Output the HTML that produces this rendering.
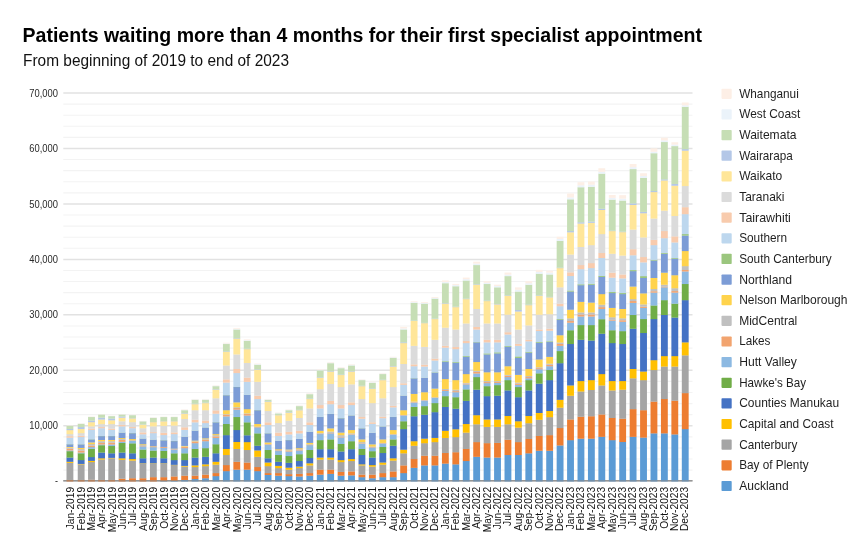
<!DOCTYPE html>
<html><head><meta charset="utf-8"><title>Patients waiting more than 4 months</title>
<style>
html,body{margin:0;padding:0;background:#fff;}
body{width:863px;height:556px;overflow:hidden;position:relative;font-family:"Liberation Sans",sans-serif;}
svg{position:absolute;left:0;top:0;opacity:0.999;will-change:transform;}
text{font-family:"Liberation Sans",sans-serif;}
</style></head><body>
<svg width="863" height="556" viewBox="0 0 863 556">
<rect x="0" y="0" width="863" height="556" fill="#ffffff"/>
<text x="22.5" y="41.8" font-size="20" font-weight="bold" fill="#000" textLength="679.5" lengthAdjust="spacingAndGlyphs">Patients waiting more than 4 months for their first specialist appointment</text>
<text x="23" y="66" font-size="15.8" fill="#111" textLength="266" lengthAdjust="spacingAndGlyphs">From beginning of 2019 to end of 2023</text>
<g>
<line x1="63.3" x2="692.5" y1="93.00" y2="93.00" stroke="#e2e2e2" stroke-width="1.5"/>
<line x1="63.3" x2="692.5" y1="104.09" y2="104.09" stroke="#f3f3f3" stroke-width="1.1"/>
<line x1="63.3" x2="692.5" y1="115.18" y2="115.18" stroke="#f3f3f3" stroke-width="1.1"/>
<line x1="63.3" x2="692.5" y1="126.28" y2="126.28" stroke="#f3f3f3" stroke-width="1.1"/>
<line x1="63.3" x2="692.5" y1="137.37" y2="137.37" stroke="#f3f3f3" stroke-width="1.1"/>
<line x1="63.3" x2="692.5" y1="148.46" y2="148.46" stroke="#e2e2e2" stroke-width="1.5"/>
<line x1="63.3" x2="692.5" y1="159.55" y2="159.55" stroke="#f3f3f3" stroke-width="1.1"/>
<line x1="63.3" x2="692.5" y1="170.64" y2="170.64" stroke="#f3f3f3" stroke-width="1.1"/>
<line x1="63.3" x2="692.5" y1="181.74" y2="181.74" stroke="#f3f3f3" stroke-width="1.1"/>
<line x1="63.3" x2="692.5" y1="192.83" y2="192.83" stroke="#f3f3f3" stroke-width="1.1"/>
<line x1="63.3" x2="692.5" y1="203.92" y2="203.92" stroke="#e2e2e2" stroke-width="1.5"/>
<line x1="63.3" x2="692.5" y1="215.01" y2="215.01" stroke="#f3f3f3" stroke-width="1.1"/>
<line x1="63.3" x2="692.5" y1="226.10" y2="226.10" stroke="#f3f3f3" stroke-width="1.1"/>
<line x1="63.3" x2="692.5" y1="237.20" y2="237.20" stroke="#f3f3f3" stroke-width="1.1"/>
<line x1="63.3" x2="692.5" y1="248.29" y2="248.29" stroke="#f3f3f3" stroke-width="1.1"/>
<line x1="63.3" x2="692.5" y1="259.38" y2="259.38" stroke="#e2e2e2" stroke-width="1.5"/>
<line x1="63.3" x2="692.5" y1="270.47" y2="270.47" stroke="#f3f3f3" stroke-width="1.1"/>
<line x1="63.3" x2="692.5" y1="281.56" y2="281.56" stroke="#f3f3f3" stroke-width="1.1"/>
<line x1="63.3" x2="692.5" y1="292.66" y2="292.66" stroke="#f3f3f3" stroke-width="1.1"/>
<line x1="63.3" x2="692.5" y1="303.75" y2="303.75" stroke="#f3f3f3" stroke-width="1.1"/>
<line x1="63.3" x2="692.5" y1="314.84" y2="314.84" stroke="#e2e2e2" stroke-width="1.5"/>
<line x1="63.3" x2="692.5" y1="325.93" y2="325.93" stroke="#f3f3f3" stroke-width="1.1"/>
<line x1="63.3" x2="692.5" y1="337.02" y2="337.02" stroke="#f3f3f3" stroke-width="1.1"/>
<line x1="63.3" x2="692.5" y1="348.12" y2="348.12" stroke="#f3f3f3" stroke-width="1.1"/>
<line x1="63.3" x2="692.5" y1="359.21" y2="359.21" stroke="#f3f3f3" stroke-width="1.1"/>
<line x1="63.3" x2="692.5" y1="370.30" y2="370.30" stroke="#e2e2e2" stroke-width="1.5"/>
<line x1="63.3" x2="692.5" y1="381.39" y2="381.39" stroke="#f3f3f3" stroke-width="1.1"/>
<line x1="63.3" x2="692.5" y1="392.48" y2="392.48" stroke="#f3f3f3" stroke-width="1.1"/>
<line x1="63.3" x2="692.5" y1="403.58" y2="403.58" stroke="#f3f3f3" stroke-width="1.1"/>
<line x1="63.3" x2="692.5" y1="414.67" y2="414.67" stroke="#f3f3f3" stroke-width="1.1"/>
<line x1="63.3" x2="692.5" y1="425.76" y2="425.76" stroke="#e2e2e2" stroke-width="1.5"/>
<line x1="63.3" x2="692.5" y1="436.85" y2="436.85" stroke="#f3f3f3" stroke-width="1.1"/>
<line x1="63.3" x2="692.5" y1="447.94" y2="447.94" stroke="#f3f3f3" stroke-width="1.1"/>
<line x1="63.3" x2="692.5" y1="459.04" y2="459.04" stroke="#f3f3f3" stroke-width="1.1"/>
<line x1="63.3" x2="692.5" y1="470.13" y2="470.13" stroke="#f3f3f3" stroke-width="1.1"/>
</g>
<g font-size="10.1" fill="#2a2a2a" text-anchor="end">
<text transform="translate(58,96.6) scale(0.93,1)" x="0" y="0">70,000</text>
<text transform="translate(58,152.1) scale(0.93,1)" x="0" y="0">60,000</text>
<text transform="translate(58,207.5) scale(0.93,1)" x="0" y="0">50,000</text>
<text transform="translate(58,263.0) scale(0.93,1)" x="0" y="0">40,000</text>
<text transform="translate(58,318.4) scale(0.93,1)" x="0" y="0">30,000</text>
<text transform="translate(58,373.9) scale(0.93,1)" x="0" y="0">20,000</text>
<text transform="translate(58,429.4) scale(0.93,1)" x="0" y="0">10,000</text>
<text transform="translate(58,483.6) scale(0.89,1)" x="0" y="0">-</text>
</g>
<line x1="63.3" x2="692.5" y1="480.8" y2="480.8" stroke="#a8a8a8" stroke-width="1.5"/>
<g>
<rect x="66.50" y="479.82" width="6.85" height="1.63" fill="#ED7D31"/><rect x="66.50" y="462.74" width="6.85" height="17.23" fill="#A5A5A5"/><rect x="66.50" y="461.68" width="6.85" height="1.21" fill="#FFC000"/><rect x="66.50" y="457.45" width="6.85" height="4.38" fill="#4472C4"/><rect x="66.50" y="451.10" width="6.85" height="6.50" fill="#70AD47"/><rect x="66.50" y="450.34" width="6.85" height="0.91" fill="#8CB9E2"/><rect x="66.50" y="448.68" width="6.85" height="1.81" fill="#F2A46F"/><rect x="66.50" y="447.62" width="6.85" height="1.21" fill="#C0C0C0"/><rect x="66.50" y="446.86" width="6.85" height="0.91" fill="#FFD34C"/><rect x="66.50" y="444.22" width="6.85" height="2.80" fill="#7C9CD6"/><rect x="66.50" y="444.07" width="6.85" height="0.30" fill="#9BC67E"/><rect x="66.50" y="437.59" width="6.85" height="6.63" fill="#BDD7EE"/><rect x="66.50" y="436.08" width="6.85" height="1.66" fill="#F8CBAD"/><rect x="66.50" y="434.04" width="6.85" height="2.19" fill="#DBDBDB"/><rect x="66.50" y="430.03" width="6.85" height="4.16" fill="#FFE699"/><rect x="66.50" y="428.90" width="6.85" height="1.28" fill="#B4C7E7"/><rect x="66.50" y="425.65" width="6.85" height="3.40" fill="#C6DEB5"/><rect x="66.50" y="425.47" width="6.85" height="0.32" fill="#EBF3FA"/><rect x="66.50" y="425.32" width="6.85" height="0.30" fill="#FDEFE6"/>
<rect x="77.73" y="479.82" width="6.85" height="1.63" fill="#ED7D31"/><rect x="77.73" y="464.25" width="6.85" height="15.72" fill="#A5A5A5"/><rect x="77.73" y="463.79" width="6.85" height="0.60" fill="#FFC000"/><rect x="77.73" y="460.02" width="6.85" height="3.93" fill="#4472C4"/><rect x="77.73" y="453.21" width="6.85" height="6.95" fill="#70AD47"/><rect x="77.73" y="452.46" width="6.85" height="0.91" fill="#8CB9E2"/><rect x="77.73" y="450.44" width="6.85" height="2.17" fill="#F2A46F"/><rect x="77.73" y="449.08" width="6.85" height="1.51" fill="#C0C0C0"/><rect x="77.73" y="447.79" width="6.85" height="1.43" fill="#FFD34C"/><rect x="77.73" y="444.29" width="6.85" height="3.65" fill="#7C9CD6"/><rect x="77.73" y="444.14" width="6.85" height="0.30" fill="#9BC67E"/><rect x="77.73" y="436.98" width="6.85" height="7.31" fill="#BDD7EE"/><rect x="77.73" y="435.70" width="6.85" height="1.43" fill="#F8CBAD"/><rect x="77.73" y="433.05" width="6.85" height="2.80" fill="#DBDBDB"/><rect x="77.73" y="428.90" width="6.85" height="4.31" fill="#FFE699"/><rect x="77.73" y="427.01" width="6.85" height="2.04" fill="#B4C7E7"/><rect x="77.73" y="423.76" width="6.85" height="3.40" fill="#C6DEB5"/><rect x="77.73" y="423.58" width="6.85" height="0.32" fill="#EBF3FA"/><rect x="77.73" y="423.43" width="6.85" height="0.30" fill="#FDEFE6"/>
<rect x="88.06" y="479.67" width="6.85" height="1.78" fill="#ED7D31"/><rect x="88.06" y="461.98" width="6.85" height="17.84" fill="#A5A5A5"/><rect x="88.06" y="460.77" width="6.85" height="1.36" fill="#FFC000"/><rect x="88.06" y="456.99" width="6.85" height="3.93" fill="#4472C4"/><rect x="88.06" y="448.68" width="6.85" height="8.46" fill="#70AD47"/><rect x="88.06" y="447.01" width="6.85" height="1.81" fill="#8CB9E2"/><rect x="88.06" y="445.65" width="6.85" height="1.51" fill="#F2A46F"/><rect x="88.06" y="443.99" width="6.85" height="1.81" fill="#C0C0C0"/><rect x="88.06" y="442.33" width="6.85" height="1.81" fill="#FFD34C"/><rect x="88.06" y="439.30" width="6.85" height="3.17" fill="#7C9CD6"/><rect x="88.06" y="439.15" width="6.85" height="0.30" fill="#9BC67E"/><rect x="88.06" y="429.78" width="6.85" height="9.52" fill="#BDD7EE"/><rect x="88.06" y="428.52" width="6.85" height="1.41" fill="#F8CBAD"/><rect x="88.06" y="426.25" width="6.85" height="2.42" fill="#DBDBDB"/><rect x="88.06" y="422.09" width="6.85" height="4.31" fill="#FFE699"/><rect x="88.06" y="420.56" width="6.85" height="1.68" fill="#B4C7E7"/><rect x="88.06" y="416.93" width="6.85" height="3.78" fill="#C6DEB5"/><rect x="88.06" y="416.78" width="6.85" height="0.30" fill="#EBF3FA"/><rect x="88.06" y="416.63" width="6.85" height="0.30" fill="#FDEFE6"/>
<rect x="98.14" y="479.82" width="6.85" height="1.63" fill="#ED7D31"/><rect x="98.14" y="459.41" width="6.85" height="20.56" fill="#A5A5A5"/><rect x="98.14" y="458.20" width="6.85" height="1.36" fill="#FFC000"/><rect x="98.14" y="452.46" width="6.85" height="5.89" fill="#4472C4"/><rect x="98.14" y="445.15" width="6.85" height="7.46" fill="#70AD47"/><rect x="98.14" y="444.39" width="6.85" height="0.91" fill="#8CB9E2"/><rect x="98.14" y="442.88" width="6.85" height="1.66" fill="#F2A46F"/><rect x="98.14" y="441.14" width="6.85" height="1.89" fill="#C0C0C0"/><rect x="98.14" y="439.86" width="6.85" height="1.43" fill="#FFD34C"/><rect x="98.14" y="436.05" width="6.85" height="3.95" fill="#7C9CD6"/><rect x="98.14" y="435.90" width="6.85" height="0.30" fill="#9BC67E"/><rect x="98.14" y="428.14" width="6.85" height="7.91" fill="#BDD7EE"/><rect x="98.14" y="427.01" width="6.85" height="1.28" fill="#F8CBAD"/><rect x="98.14" y="423.98" width="6.85" height="3.17" fill="#DBDBDB"/><rect x="98.14" y="419.45" width="6.85" height="4.69" fill="#FFE699"/><rect x="98.14" y="417.56" width="6.85" height="2.04" fill="#B4C7E7"/><rect x="98.14" y="414.31" width="6.85" height="3.40" fill="#C6DEB5"/><rect x="98.14" y="414.13" width="6.85" height="0.32" fill="#EBF3FA"/><rect x="98.14" y="413.98" width="6.85" height="0.30" fill="#FDEFE6"/>
<rect x="108.22" y="479.82" width="6.85" height="1.63" fill="#ED7D31"/><rect x="108.22" y="458.20" width="6.85" height="21.77" fill="#A5A5A5"/><rect x="108.22" y="457.75" width="6.85" height="0.60" fill="#FFC000"/><rect x="108.22" y="453.21" width="6.85" height="4.69" fill="#4472C4"/><rect x="108.22" y="445.90" width="6.85" height="7.46" fill="#70AD47"/><rect x="108.22" y="444.39" width="6.85" height="1.66" fill="#8CB9E2"/><rect x="108.22" y="442.65" width="6.85" height="1.89" fill="#F2A46F"/><rect x="108.22" y="441.14" width="6.85" height="1.66" fill="#C0C0C0"/><rect x="108.22" y="439.86" width="6.85" height="1.43" fill="#FFD34C"/><rect x="108.22" y="436.05" width="6.85" height="3.95" fill="#7C9CD6"/><rect x="108.22" y="435.90" width="6.85" height="0.30" fill="#9BC67E"/><rect x="108.22" y="429.80" width="6.85" height="6.25" fill="#BDD7EE"/><rect x="108.22" y="428.52" width="6.85" height="1.43" fill="#F8CBAD"/><rect x="108.22" y="423.98" width="6.85" height="4.69" fill="#DBDBDB"/><rect x="108.22" y="420.20" width="6.85" height="3.93" fill="#FFE699"/><rect x="108.22" y="418.47" width="6.85" height="1.89" fill="#B4C7E7"/><rect x="108.22" y="416.05" width="6.85" height="2.57" fill="#C6DEB5"/><rect x="108.22" y="415.87" width="6.85" height="0.32" fill="#EBF3FA"/><rect x="108.22" y="415.72" width="6.85" height="0.30" fill="#FDEFE6"/>
<rect x="118.65" y="478.61" width="6.85" height="2.84" fill="#ED7D31"/><rect x="118.65" y="459.71" width="6.85" height="19.05" fill="#A5A5A5"/><rect x="118.65" y="458.20" width="6.85" height="1.66" fill="#FFC000"/><rect x="118.65" y="452.46" width="6.85" height="5.89" fill="#4472C4"/><rect x="118.65" y="442.88" width="6.85" height="9.73" fill="#70AD47"/><rect x="118.65" y="441.75" width="6.85" height="1.28" fill="#8CB9E2"/><rect x="118.65" y="439.71" width="6.85" height="2.19" fill="#F2A46F"/><rect x="118.65" y="438.85" width="6.85" height="1.00" fill="#C0C0C0"/><rect x="118.65" y="437.97" width="6.85" height="1.03" fill="#FFD34C"/><rect x="118.65" y="432.58" width="6.85" height="5.54" fill="#7C9CD6"/><rect x="118.65" y="432.43" width="6.85" height="0.30" fill="#9BC67E"/><rect x="118.65" y="426.25" width="6.85" height="6.33" fill="#BDD7EE"/><rect x="118.65" y="424.74" width="6.85" height="1.66" fill="#F8CBAD"/><rect x="118.65" y="421.19" width="6.85" height="3.70" fill="#DBDBDB"/><rect x="118.65" y="417.56" width="6.85" height="3.78" fill="#FFE699"/><rect x="118.65" y="416.42" width="6.85" height="1.28" fill="#B4C7E7"/><rect x="118.65" y="414.31" width="6.85" height="2.27" fill="#C6DEB5"/><rect x="118.65" y="414.13" width="6.85" height="0.32" fill="#EBF3FA"/><rect x="118.65" y="413.98" width="6.85" height="0.30" fill="#FDEFE6"/>
<rect x="129.07" y="478.16" width="6.85" height="3.29" fill="#ED7D31"/><rect x="129.07" y="460.47" width="6.85" height="17.84" fill="#A5A5A5"/><rect x="129.07" y="458.96" width="6.85" height="1.66" fill="#FFC000"/><rect x="129.07" y="453.21" width="6.85" height="5.89" fill="#4472C4"/><rect x="129.07" y="443.24" width="6.85" height="10.13" fill="#70AD47"/><rect x="129.07" y="440.67" width="6.85" height="2.72" fill="#8CB9E2"/><rect x="129.07" y="440.36" width="6.85" height="0.45" fill="#F2A46F"/><rect x="129.07" y="440.06" width="6.85" height="0.45" fill="#C0C0C0"/><rect x="129.07" y="438.95" width="6.85" height="1.26" fill="#FFD34C"/><rect x="129.07" y="433.11" width="6.85" height="5.99" fill="#7C9CD6"/><rect x="129.07" y="432.96" width="6.85" height="0.30" fill="#9BC67E"/><rect x="129.07" y="428.12" width="6.85" height="4.99" fill="#BDD7EE"/><rect x="129.07" y="427.01" width="6.85" height="1.26" fill="#F8CBAD"/><rect x="129.07" y="422.07" width="6.85" height="5.09" fill="#DBDBDB"/><rect x="129.07" y="418.29" width="6.85" height="3.93" fill="#FFE699"/><rect x="129.07" y="418.07" width="6.85" height="0.38" fill="#B4C7E7"/><rect x="129.07" y="415.06" width="6.85" height="3.15" fill="#C6DEB5"/><rect x="129.07" y="414.89" width="6.85" height="0.32" fill="#EBF3FA"/><rect x="129.07" y="414.74" width="6.85" height="0.30" fill="#FDEFE6"/>
<rect x="139.50" y="478.16" width="6.85" height="3.29" fill="#ED7D31"/><rect x="139.50" y="463.49" width="6.85" height="14.81" fill="#A5A5A5"/><rect x="139.50" y="463.19" width="6.85" height="0.45" fill="#FFC000"/><rect x="139.50" y="458.20" width="6.85" height="5.14" fill="#4472C4"/><rect x="139.50" y="449.43" width="6.85" height="8.92" fill="#70AD47"/><rect x="139.50" y="446.26" width="6.85" height="3.32" fill="#8CB9E2"/><rect x="139.50" y="445.80" width="6.85" height="0.60" fill="#F2A46F"/><rect x="139.50" y="445.05" width="6.85" height="0.91" fill="#C0C0C0"/><rect x="139.50" y="444.14" width="6.85" height="1.06" fill="#FFD34C"/><rect x="139.50" y="438.57" width="6.85" height="5.72" fill="#7C9CD6"/><rect x="139.50" y="438.42" width="6.85" height="0.30" fill="#9BC67E"/><rect x="139.50" y="434.19" width="6.85" height="4.38" fill="#BDD7EE"/><rect x="139.50" y="432.30" width="6.85" height="2.04" fill="#F8CBAD"/><rect x="139.50" y="428.14" width="6.85" height="4.31" fill="#DBDBDB"/><rect x="139.50" y="424.59" width="6.85" height="3.70" fill="#FFE699"/><rect x="139.50" y="424.34" width="6.85" height="0.40" fill="#B4C7E7"/><rect x="139.50" y="421.19" width="6.85" height="3.30" fill="#C6DEB5"/><rect x="139.50" y="421.01" width="6.85" height="0.32" fill="#EBF3FA"/><rect x="139.50" y="420.86" width="6.85" height="0.30" fill="#FDEFE6"/>
<rect x="149.93" y="477.10" width="6.85" height="4.35" fill="#ED7D31"/><rect x="149.93" y="463.49" width="6.85" height="13.76" fill="#A5A5A5"/><rect x="149.93" y="463.19" width="6.85" height="0.45" fill="#FFC000"/><rect x="149.93" y="457.45" width="6.85" height="5.89" fill="#4472C4"/><rect x="149.93" y="450.44" width="6.85" height="7.16" fill="#70AD47"/><rect x="149.93" y="447.09" width="6.85" height="3.50" fill="#8CB9E2"/><rect x="149.93" y="446.33" width="6.85" height="0.91" fill="#F2A46F"/><rect x="149.93" y="446.18" width="6.85" height="0.30" fill="#C0C0C0"/><rect x="149.93" y="446.03" width="6.85" height="0.30" fill="#FFD34C"/><rect x="149.93" y="439.68" width="6.85" height="6.50" fill="#7C9CD6"/><rect x="149.93" y="439.53" width="6.85" height="0.30" fill="#9BC67E"/><rect x="149.93" y="433.05" width="6.85" height="6.63" fill="#BDD7EE"/><rect x="149.93" y="432.07" width="6.85" height="1.13" fill="#F8CBAD"/><rect x="149.93" y="426.25" width="6.85" height="5.97" fill="#DBDBDB"/><rect x="149.93" y="422.07" width="6.85" height="4.33" fill="#FFE699"/><rect x="149.93" y="421.84" width="6.85" height="0.38" fill="#B4C7E7"/><rect x="149.93" y="417.79" width="6.85" height="4.21" fill="#C6DEB5"/><rect x="149.93" y="417.61" width="6.85" height="0.32" fill="#EBF3FA"/><rect x="149.93" y="417.46" width="6.85" height="0.30" fill="#FDEFE6"/>
<rect x="160.36" y="481.00" width="6.85" height="0.45" fill="#5B9BD5"/><rect x="160.36" y="477.10" width="6.85" height="4.05" fill="#ED7D31"/><rect x="160.36" y="463.49" width="6.85" height="13.76" fill="#A5A5A5"/><rect x="160.36" y="463.19" width="6.85" height="0.45" fill="#FFC000"/><rect x="160.36" y="458.20" width="6.85" height="5.14" fill="#4472C4"/><rect x="160.36" y="450.82" width="6.85" height="7.53" fill="#70AD47"/><rect x="160.36" y="447.79" width="6.85" height="3.17" fill="#8CB9E2"/><rect x="160.36" y="447.01" width="6.85" height="0.93" fill="#F2A46F"/><rect x="160.36" y="446.86" width="6.85" height="0.30" fill="#C0C0C0"/><rect x="160.36" y="446.79" width="6.85" height="0.23" fill="#FFD34C"/><rect x="160.36" y="440.21" width="6.85" height="6.73" fill="#7C9CD6"/><rect x="160.36" y="440.06" width="6.85" height="0.30" fill="#9BC67E"/><rect x="160.36" y="434.94" width="6.85" height="5.27" fill="#BDD7EE"/><rect x="160.36" y="432.68" width="6.85" height="2.42" fill="#F8CBAD"/><rect x="160.36" y="425.72" width="6.85" height="7.10" fill="#DBDBDB"/><rect x="160.36" y="421.16" width="6.85" height="4.71" fill="#FFE699"/><rect x="160.36" y="420.96" width="6.85" height="0.35" fill="#B4C7E7"/><rect x="160.36" y="416.95" width="6.85" height="4.16" fill="#C6DEB5"/><rect x="160.36" y="416.78" width="6.85" height="0.32" fill="#EBF3FA"/><rect x="160.36" y="416.63" width="6.85" height="0.30" fill="#FDEFE6"/>
<rect x="170.79" y="480.80" width="6.85" height="0.65" fill="#5B9BD5"/><rect x="170.79" y="476.34" width="6.85" height="4.61" fill="#ED7D31"/><rect x="170.79" y="465.00" width="6.85" height="11.49" fill="#A5A5A5"/><rect x="170.79" y="464.70" width="6.85" height="0.45" fill="#FFC000"/><rect x="170.79" y="460.02" width="6.85" height="4.84" fill="#4472C4"/><rect x="170.79" y="453.21" width="6.85" height="6.95" fill="#70AD47"/><rect x="170.79" y="449.46" width="6.85" height="3.91" fill="#8CB9E2"/><rect x="170.79" y="449.13" width="6.85" height="0.48" fill="#F2A46F"/><rect x="170.79" y="448.83" width="6.85" height="0.45" fill="#C0C0C0"/><rect x="170.79" y="448.55" width="6.85" height="0.43" fill="#FFD34C"/><rect x="170.79" y="441.04" width="6.85" height="7.66" fill="#7C9CD6"/><rect x="170.79" y="440.89" width="6.85" height="0.30" fill="#9BC67E"/><rect x="170.79" y="434.04" width="6.85" height="7.01" fill="#BDD7EE"/><rect x="170.79" y="432.30" width="6.85" height="1.89" fill="#F8CBAD"/><rect x="170.79" y="425.50" width="6.85" height="6.95" fill="#DBDBDB"/><rect x="170.79" y="421.16" width="6.85" height="4.48" fill="#FFE699"/><rect x="170.79" y="420.96" width="6.85" height="0.35" fill="#B4C7E7"/><rect x="170.79" y="416.95" width="6.85" height="4.16" fill="#C6DEB5"/><rect x="170.79" y="416.78" width="6.85" height="0.32" fill="#EBF3FA"/><rect x="170.79" y="416.63" width="6.85" height="0.30" fill="#FDEFE6"/>
<rect x="181.22" y="479.82" width="6.85" height="1.63" fill="#5B9BD5"/><rect x="181.22" y="475.59" width="6.85" height="4.38" fill="#ED7D31"/><rect x="181.22" y="466.52" width="6.85" height="9.22" fill="#A5A5A5"/><rect x="181.22" y="465.76" width="6.85" height="0.91" fill="#FFC000"/><rect x="181.22" y="460.02" width="6.85" height="5.89" fill="#4472C4"/><rect x="181.22" y="453.21" width="6.85" height="6.95" fill="#70AD47"/><rect x="181.22" y="448.07" width="6.85" height="5.29" fill="#8CB9E2"/><rect x="181.22" y="446.86" width="6.85" height="1.36" fill="#F2A46F"/><rect x="181.22" y="446.41" width="6.85" height="0.60" fill="#C0C0C0"/><rect x="181.22" y="445.80" width="6.85" height="0.75" fill="#FFD34C"/><rect x="181.22" y="436.73" width="6.85" height="9.22" fill="#7C9CD6"/><rect x="181.22" y="436.58" width="6.85" height="0.30" fill="#9BC67E"/><rect x="181.22" y="429.78" width="6.85" height="6.95" fill="#BDD7EE"/><rect x="181.22" y="427.21" width="6.85" height="2.72" fill="#F8CBAD"/><rect x="181.22" y="418.90" width="6.85" height="8.46" fill="#DBDBDB"/><rect x="181.22" y="413.61" width="6.85" height="5.44" fill="#FFE699"/><rect x="181.22" y="413.15" width="6.85" height="0.60" fill="#B4C7E7"/><rect x="181.22" y="410.13" width="6.85" height="3.17" fill="#C6DEB5"/><rect x="181.22" y="409.67" width="6.85" height="0.60" fill="#EBF3FA"/><rect x="181.22" y="409.37" width="6.85" height="0.45" fill="#FDEFE6"/>
<rect x="191.65" y="478.91" width="6.85" height="2.54" fill="#5B9BD5"/><rect x="191.65" y="475.59" width="6.85" height="3.48" fill="#ED7D31"/><rect x="191.65" y="466.97" width="6.85" height="8.77" fill="#A5A5A5"/><rect x="191.65" y="465.31" width="6.85" height="1.81" fill="#FFC000"/><rect x="191.65" y="457.45" width="6.85" height="8.01" fill="#4472C4"/><rect x="191.65" y="448.83" width="6.85" height="8.77" fill="#70AD47"/><rect x="191.65" y="443.08" width="6.85" height="5.89" fill="#8CB9E2"/><rect x="191.65" y="441.57" width="6.85" height="1.66" fill="#F2A46F"/><rect x="191.65" y="441.12" width="6.85" height="0.60" fill="#C0C0C0"/><rect x="191.65" y="440.51" width="6.85" height="0.75" fill="#FFD34C"/><rect x="191.65" y="430.69" width="6.85" height="9.98" fill="#7C9CD6"/><rect x="191.65" y="430.54" width="6.85" height="0.30" fill="#9BC67E"/><rect x="191.65" y="422.22" width="6.85" height="8.46" fill="#BDD7EE"/><rect x="191.65" y="419.65" width="6.85" height="2.72" fill="#F8CBAD"/><rect x="191.65" y="410.13" width="6.85" height="9.67" fill="#DBDBDB"/><rect x="191.65" y="404.08" width="6.85" height="6.20" fill="#FFE699"/><rect x="191.65" y="403.63" width="6.85" height="0.60" fill="#B4C7E7"/><rect x="191.65" y="399.70" width="6.85" height="4.08" fill="#C6DEB5"/><rect x="191.65" y="399.24" width="6.85" height="0.60" fill="#EBF3FA"/><rect x="191.65" y="398.94" width="6.85" height="0.45" fill="#FDEFE6"/>
<rect x="202.08" y="478.16" width="6.85" height="3.29" fill="#5B9BD5"/><rect x="202.08" y="474.53" width="6.85" height="3.78" fill="#ED7D31"/><rect x="202.08" y="466.06" width="6.85" height="8.62" fill="#A5A5A5"/><rect x="202.08" y="464.25" width="6.85" height="1.96" fill="#FFC000"/><rect x="202.08" y="456.69" width="6.85" height="7.71" fill="#4472C4"/><rect x="202.08" y="448.07" width="6.85" height="8.77" fill="#70AD47"/><rect x="202.08" y="441.12" width="6.85" height="7.10" fill="#8CB9E2"/><rect x="202.08" y="439.61" width="6.85" height="1.66" fill="#F2A46F"/><rect x="202.08" y="439.00" width="6.85" height="0.75" fill="#C0C0C0"/><rect x="202.08" y="438.25" width="6.85" height="0.91" fill="#FFD34C"/><rect x="202.08" y="427.51" width="6.85" height="10.88" fill="#7C9CD6"/><rect x="202.08" y="427.36" width="6.85" height="0.30" fill="#9BC67E"/><rect x="202.08" y="422.98" width="6.85" height="4.53" fill="#BDD7EE"/><rect x="202.08" y="420.41" width="6.85" height="2.72" fill="#F8CBAD"/><rect x="202.08" y="410.13" width="6.85" height="10.43" fill="#DBDBDB"/><rect x="202.08" y="403.02" width="6.85" height="7.26" fill="#FFE699"/><rect x="202.08" y="402.57" width="6.85" height="0.60" fill="#B4C7E7"/><rect x="202.08" y="399.70" width="6.85" height="3.02" fill="#C6DEB5"/><rect x="202.08" y="399.24" width="6.85" height="0.60" fill="#EBF3FA"/><rect x="202.08" y="398.94" width="6.85" height="0.45" fill="#FDEFE6"/>
<rect x="212.51" y="476.04" width="6.85" height="5.41" fill="#5B9BD5"/><rect x="212.51" y="473.02" width="6.85" height="3.17" fill="#ED7D31"/><rect x="212.51" y="464.55" width="6.85" height="8.62" fill="#A5A5A5"/><rect x="212.51" y="461.68" width="6.85" height="3.02" fill="#FFC000"/><rect x="212.51" y="453.21" width="6.85" height="8.62" fill="#4472C4"/><rect x="212.51" y="444.14" width="6.85" height="9.22" fill="#70AD47"/><rect x="212.51" y="437.79" width="6.85" height="6.50" fill="#8CB9E2"/><rect x="212.51" y="436.28" width="6.85" height="1.66" fill="#F2A46F"/><rect x="212.51" y="435.07" width="6.85" height="1.36" fill="#C0C0C0"/><rect x="212.51" y="434.01" width="6.85" height="1.21" fill="#FFD34C"/><rect x="212.51" y="422.22" width="6.85" height="11.94" fill="#7C9CD6"/><rect x="212.51" y="422.07" width="6.85" height="0.30" fill="#9BC67E"/><rect x="212.51" y="413.61" width="6.85" height="8.62" fill="#BDD7EE"/><rect x="212.51" y="410.28" width="6.85" height="3.48" fill="#F8CBAD"/><rect x="212.51" y="398.19" width="6.85" height="12.24" fill="#DBDBDB"/><rect x="212.51" y="389.57" width="6.85" height="8.77" fill="#FFE699"/><rect x="212.51" y="389.12" width="6.85" height="0.60" fill="#B4C7E7"/><rect x="212.51" y="386.09" width="6.85" height="3.17" fill="#C6DEB5"/><rect x="212.51" y="385.64" width="6.85" height="0.60" fill="#EBF3FA"/><rect x="212.51" y="385.34" width="6.85" height="0.45" fill="#FDEFE6"/>
<rect x="222.94" y="471.05" width="6.85" height="10.40" fill="#5B9BD5"/><rect x="222.94" y="465.00" width="6.85" height="6.20" fill="#ED7D31"/><rect x="222.94" y="454.88" width="6.85" height="10.28" fill="#A5A5A5"/><rect x="222.94" y="448.83" width="6.85" height="6.20" fill="#FFC000"/><rect x="222.94" y="435.07" width="6.85" height="13.91" fill="#4472C4"/><rect x="222.94" y="423.89" width="6.85" height="11.34" fill="#70AD47"/><rect x="222.94" y="416.33" width="6.85" height="7.71" fill="#8CB9E2"/><rect x="222.94" y="414.66" width="6.85" height="1.81" fill="#F2A46F"/><rect x="222.94" y="414.06" width="6.85" height="0.75" fill="#C0C0C0"/><rect x="222.94" y="410.13" width="6.85" height="4.08" fill="#FFD34C"/><rect x="222.94" y="395.16" width="6.85" height="15.12" fill="#7C9CD6"/><rect x="222.94" y="395.01" width="6.85" height="0.30" fill="#9BC67E"/><rect x="222.94" y="382.46" width="6.85" height="12.70" fill="#BDD7EE"/><rect x="222.94" y="379.29" width="6.85" height="3.32" fill="#F8CBAD"/><rect x="222.94" y="365.38" width="6.85" height="14.06" fill="#DBDBDB"/><rect x="222.94" y="351.78" width="6.85" height="13.76" fill="#FFE699"/><rect x="222.94" y="351.32" width="6.85" height="0.60" fill="#B4C7E7"/><rect x="222.94" y="343.92" width="6.85" height="7.56" fill="#C6DEB5"/><rect x="222.94" y="343.31" width="6.85" height="0.75" fill="#EBF3FA"/><rect x="222.94" y="342.71" width="6.85" height="0.75" fill="#FDEFE6"/>
<rect x="233.36" y="469.54" width="6.85" height="11.91" fill="#5B9BD5"/><rect x="233.36" y="461.68" width="6.85" height="8.01" fill="#ED7D31"/><rect x="233.36" y="448.83" width="6.85" height="13.00" fill="#A5A5A5"/><rect x="233.36" y="441.87" width="6.85" height="7.10" fill="#FFC000"/><rect x="233.36" y="429.93" width="6.85" height="12.09" fill="#4472C4"/><rect x="233.36" y="416.93" width="6.85" height="13.15" fill="#70AD47"/><rect x="233.36" y="409.52" width="6.85" height="7.56" fill="#8CB9E2"/><rect x="233.36" y="408.01" width="6.85" height="1.66" fill="#F2A46F"/><rect x="233.36" y="407.11" width="6.85" height="1.06" fill="#C0C0C0"/><rect x="233.36" y="402.27" width="6.85" height="4.99" fill="#FFD34C"/><rect x="233.36" y="387.00" width="6.85" height="15.42" fill="#7C9CD6"/><rect x="233.36" y="386.85" width="6.85" height="0.30" fill="#9BC67E"/><rect x="233.36" y="372.94" width="6.85" height="14.06" fill="#BDD7EE"/><rect x="233.36" y="368.86" width="6.85" height="4.23" fill="#F8CBAD"/><rect x="233.36" y="354.35" width="6.85" height="14.66" fill="#DBDBDB"/><rect x="233.36" y="338.62" width="6.85" height="15.87" fill="#FFE699"/><rect x="233.36" y="338.17" width="6.85" height="0.60" fill="#B4C7E7"/><rect x="233.36" y="329.40" width="6.85" height="8.92" fill="#C6DEB5"/><rect x="233.36" y="328.65" width="6.85" height="0.91" fill="#EBF3FA"/><rect x="233.36" y="327.89" width="6.85" height="0.91" fill="#FDEFE6"/>
<rect x="243.79" y="469.54" width="6.85" height="11.91" fill="#5B9BD5"/><rect x="243.79" y="462.43" width="6.85" height="7.26" fill="#ED7D31"/><rect x="243.79" y="449.89" width="6.85" height="12.70" fill="#A5A5A5"/><rect x="243.79" y="442.03" width="6.85" height="8.01" fill="#FFC000"/><rect x="243.79" y="435.22" width="6.85" height="6.95" fill="#4472C4"/><rect x="243.79" y="422.22" width="6.85" height="13.15" fill="#70AD47"/><rect x="243.79" y="415.42" width="6.85" height="6.95" fill="#8CB9E2"/><rect x="243.79" y="413.91" width="6.85" height="1.66" fill="#F2A46F"/><rect x="243.79" y="413.30" width="6.85" height="0.75" fill="#C0C0C0"/><rect x="243.79" y="409.07" width="6.85" height="4.38" fill="#FFD34C"/><rect x="243.79" y="394.86" width="6.85" height="14.36" fill="#7C9CD6"/><rect x="243.79" y="394.71" width="6.85" height="0.30" fill="#9BC67E"/><rect x="243.79" y="381.71" width="6.85" height="13.15" fill="#BDD7EE"/><rect x="243.79" y="377.48" width="6.85" height="4.38" fill="#F8CBAD"/><rect x="243.79" y="362.81" width="6.85" height="14.81" fill="#DBDBDB"/><rect x="243.79" y="349.06" width="6.85" height="13.91" fill="#FFE699"/><rect x="243.79" y="348.60" width="6.85" height="0.60" fill="#B4C7E7"/><rect x="243.79" y="340.74" width="6.85" height="8.01" fill="#C6DEB5"/><rect x="243.79" y="340.14" width="6.85" height="0.75" fill="#EBF3FA"/><rect x="243.79" y="339.38" width="6.85" height="0.91" fill="#FDEFE6"/>
<rect x="254.22" y="471.05" width="6.85" height="10.40" fill="#5B9BD5"/><rect x="254.22" y="466.97" width="6.85" height="4.23" fill="#ED7D31"/><rect x="254.22" y="456.69" width="6.85" height="10.43" fill="#A5A5A5"/><rect x="254.22" y="450.34" width="6.85" height="6.50" fill="#FFC000"/><rect x="254.22" y="445.65" width="6.85" height="4.84" fill="#4472C4"/><rect x="254.22" y="433.26" width="6.85" height="12.55" fill="#70AD47"/><rect x="254.22" y="427.21" width="6.85" height="6.20" fill="#8CB9E2"/><rect x="254.22" y="426.76" width="6.85" height="0.60" fill="#F2A46F"/><rect x="254.22" y="426.46" width="6.85" height="0.45" fill="#C0C0C0"/><rect x="254.22" y="423.89" width="6.85" height="2.72" fill="#FFD34C"/><rect x="254.22" y="410.13" width="6.85" height="13.91" fill="#7C9CD6"/><rect x="254.22" y="409.98" width="6.85" height="0.30" fill="#9BC67E"/><rect x="254.22" y="398.94" width="6.85" height="11.19" fill="#BDD7EE"/><rect x="254.22" y="395.62" width="6.85" height="3.48" fill="#F8CBAD"/><rect x="254.22" y="381.71" width="6.85" height="14.06" fill="#DBDBDB"/><rect x="254.22" y="369.61" width="6.85" height="12.24" fill="#FFE699"/><rect x="254.22" y="369.16" width="6.85" height="0.60" fill="#B4C7E7"/><rect x="254.22" y="364.63" width="6.85" height="4.69" fill="#C6DEB5"/><rect x="254.22" y="364.02" width="6.85" height="0.75" fill="#EBF3FA"/><rect x="254.22" y="363.57" width="6.85" height="0.60" fill="#FDEFE6"/>
<rect x="264.65" y="474.83" width="6.85" height="6.62" fill="#5B9BD5"/><rect x="264.65" y="473.02" width="6.85" height="1.96" fill="#ED7D31"/><rect x="264.65" y="466.06" width="6.85" height="7.10" fill="#A5A5A5"/><rect x="264.65" y="462.43" width="6.85" height="3.78" fill="#FFC000"/><rect x="264.65" y="458.20" width="6.85" height="4.38" fill="#4472C4"/><rect x="264.65" y="449.89" width="6.85" height="8.46" fill="#70AD47"/><rect x="264.65" y="444.90" width="6.85" height="5.14" fill="#8CB9E2"/><rect x="264.65" y="444.29" width="6.85" height="0.75" fill="#F2A46F"/><rect x="264.65" y="443.84" width="6.85" height="0.60" fill="#C0C0C0"/><rect x="264.65" y="442.33" width="6.85" height="1.66" fill="#FFD34C"/><rect x="264.65" y="433.26" width="6.85" height="9.22" fill="#7C9CD6"/><rect x="264.65" y="433.11" width="6.85" height="0.30" fill="#9BC67E"/><rect x="264.65" y="424.94" width="6.85" height="8.31" fill="#BDD7EE"/><rect x="264.65" y="422.22" width="6.85" height="2.87" fill="#F8CBAD"/><rect x="264.65" y="410.88" width="6.85" height="11.49" fill="#DBDBDB"/><rect x="264.65" y="401.66" width="6.85" height="9.37" fill="#FFE699"/><rect x="264.65" y="401.21" width="6.85" height="0.60" fill="#B4C7E7"/><rect x="264.65" y="399.70" width="6.85" height="1.66" fill="#C6DEB5"/><rect x="264.65" y="399.24" width="6.85" height="0.60" fill="#EBF3FA"/><rect x="264.65" y="398.94" width="6.85" height="0.45" fill="#FDEFE6"/>
<rect x="275.08" y="475.59" width="6.85" height="5.86" fill="#5B9BD5"/><rect x="275.08" y="473.02" width="6.85" height="2.72" fill="#ED7D31"/><rect x="275.08" y="468.03" width="6.85" height="5.14" fill="#A5A5A5"/><rect x="275.08" y="465.76" width="6.85" height="2.42" fill="#FFC000"/><rect x="275.08" y="461.68" width="6.85" height="4.23" fill="#4472C4"/><rect x="275.08" y="454.88" width="6.85" height="6.95" fill="#70AD47"/><rect x="275.08" y="450.94" width="6.85" height="4.08" fill="#8CB9E2"/><rect x="275.08" y="450.34" width="6.85" height="0.75" fill="#F2A46F"/><rect x="275.08" y="449.89" width="6.85" height="0.60" fill="#C0C0C0"/><rect x="275.08" y="449.13" width="6.85" height="0.91" fill="#FFD34C"/><rect x="275.08" y="440.82" width="6.85" height="8.46" fill="#7C9CD6"/><rect x="275.08" y="440.67" width="6.85" height="0.30" fill="#9BC67E"/><rect x="275.08" y="435.83" width="6.85" height="4.99" fill="#BDD7EE"/><rect x="275.08" y="432.50" width="6.85" height="3.48" fill="#F8CBAD"/><rect x="275.08" y="422.98" width="6.85" height="9.67" fill="#DBDBDB"/><rect x="275.08" y="415.12" width="6.85" height="8.01" fill="#FFE699"/><rect x="275.08" y="414.81" width="6.85" height="0.45" fill="#B4C7E7"/><rect x="275.08" y="413.30" width="6.85" height="1.66" fill="#C6DEB5"/><rect x="275.08" y="412.85" width="6.85" height="0.60" fill="#EBF3FA"/><rect x="275.08" y="412.55" width="6.85" height="0.45" fill="#FDEFE6"/>
<rect x="285.51" y="476.04" width="6.85" height="5.41" fill="#5B9BD5"/><rect x="285.51" y="474.07" width="6.85" height="2.12" fill="#ED7D31"/><rect x="285.51" y="469.54" width="6.85" height="4.69" fill="#A5A5A5"/><rect x="285.51" y="467.57" width="6.85" height="2.12" fill="#FFC000"/><rect x="285.51" y="462.74" width="6.85" height="4.99" fill="#4472C4"/><rect x="285.51" y="455.93" width="6.85" height="6.95" fill="#70AD47"/><rect x="285.51" y="451.40" width="6.85" height="4.69" fill="#8CB9E2"/><rect x="285.51" y="450.64" width="6.85" height="0.91" fill="#F2A46F"/><rect x="285.51" y="450.19" width="6.85" height="0.60" fill="#C0C0C0"/><rect x="285.51" y="449.43" width="6.85" height="0.91" fill="#FFD34C"/><rect x="285.51" y="440.06" width="6.85" height="9.52" fill="#7C9CD6"/><rect x="285.51" y="439.91" width="6.85" height="0.30" fill="#9BC67E"/><rect x="285.51" y="434.32" width="6.85" height="5.74" fill="#BDD7EE"/><rect x="285.51" y="431.75" width="6.85" height="2.72" fill="#F8CBAD"/><rect x="285.51" y="420.71" width="6.85" height="11.19" fill="#DBDBDB"/><rect x="285.51" y="412.55" width="6.85" height="8.31" fill="#FFE699"/><rect x="285.51" y="412.09" width="6.85" height="0.60" fill="#B4C7E7"/><rect x="285.51" y="410.13" width="6.85" height="2.12" fill="#C6DEB5"/><rect x="285.51" y="409.67" width="6.85" height="0.60" fill="#EBF3FA"/><rect x="285.51" y="409.37" width="6.85" height="0.45" fill="#FDEFE6"/>
<rect x="295.94" y="476.34" width="6.85" height="5.11" fill="#5B9BD5"/><rect x="295.94" y="473.77" width="6.85" height="2.72" fill="#ED7D31"/><rect x="295.94" y="468.03" width="6.85" height="5.89" fill="#A5A5A5"/><rect x="295.94" y="466.52" width="6.85" height="1.66" fill="#FFC000"/><rect x="295.94" y="460.92" width="6.85" height="5.74" fill="#4472C4"/><rect x="295.94" y="454.12" width="6.85" height="6.95" fill="#70AD47"/><rect x="295.94" y="450.34" width="6.85" height="3.93" fill="#8CB9E2"/><rect x="295.94" y="449.58" width="6.85" height="0.91" fill="#F2A46F"/><rect x="295.94" y="449.13" width="6.85" height="0.60" fill="#C0C0C0"/><rect x="295.94" y="448.07" width="6.85" height="1.21" fill="#FFD34C"/><rect x="295.94" y="438.85" width="6.85" height="9.37" fill="#7C9CD6"/><rect x="295.94" y="438.70" width="6.85" height="0.30" fill="#9BC67E"/><rect x="295.94" y="433.26" width="6.85" height="5.59" fill="#BDD7EE"/><rect x="295.94" y="430.69" width="6.85" height="2.72" fill="#F8CBAD"/><rect x="295.94" y="417.84" width="6.85" height="13.00" fill="#DBDBDB"/><rect x="295.94" y="410.13" width="6.85" height="7.86" fill="#FFE699"/><rect x="295.94" y="409.67" width="6.85" height="0.60" fill="#B4C7E7"/><rect x="295.94" y="406.05" width="6.85" height="3.78" fill="#C6DEB5"/><rect x="295.94" y="405.59" width="6.85" height="0.60" fill="#EBF3FA"/><rect x="295.94" y="405.29" width="6.85" height="0.45" fill="#FDEFE6"/>
<rect x="306.37" y="475.59" width="6.85" height="5.86" fill="#5B9BD5"/><rect x="306.37" y="473.02" width="6.85" height="2.72" fill="#ED7D31"/><rect x="306.37" y="465.31" width="6.85" height="7.86" fill="#A5A5A5"/><rect x="306.37" y="463.19" width="6.85" height="2.27" fill="#FFC000"/><rect x="306.37" y="457.90" width="6.85" height="5.44" fill="#4472C4"/><rect x="306.37" y="449.89" width="6.85" height="8.16" fill="#70AD47"/><rect x="306.37" y="445.05" width="6.85" height="4.99" fill="#8CB9E2"/><rect x="306.37" y="444.60" width="6.85" height="0.60" fill="#F2A46F"/><rect x="306.37" y="444.14" width="6.85" height="0.60" fill="#C0C0C0"/><rect x="306.37" y="442.78" width="6.85" height="1.51" fill="#FFD34C"/><rect x="306.37" y="431.75" width="6.85" height="11.19" fill="#7C9CD6"/><rect x="306.37" y="431.59" width="6.85" height="0.30" fill="#9BC67E"/><rect x="306.37" y="424.94" width="6.85" height="6.80" fill="#BDD7EE"/><rect x="306.37" y="422.22" width="6.85" height="2.87" fill="#F8CBAD"/><rect x="306.37" y="408.31" width="6.85" height="14.06" fill="#DBDBDB"/><rect x="306.37" y="398.94" width="6.85" height="9.52" fill="#FFE699"/><rect x="306.37" y="398.49" width="6.85" height="0.60" fill="#B4C7E7"/><rect x="306.37" y="394.10" width="6.85" height="4.53" fill="#C6DEB5"/><rect x="306.37" y="393.50" width="6.85" height="0.75" fill="#EBF3FA"/><rect x="306.37" y="393.05" width="6.85" height="0.60" fill="#FDEFE6"/>
<rect x="316.80" y="474.53" width="6.85" height="6.92" fill="#5B9BD5"/><rect x="316.80" y="469.54" width="6.85" height="5.14" fill="#ED7D31"/><rect x="316.80" y="459.41" width="6.85" height="10.28" fill="#A5A5A5"/><rect x="316.80" y="457.45" width="6.85" height="2.12" fill="#FFC000"/><rect x="316.80" y="449.13" width="6.85" height="8.46" fill="#4472C4"/><rect x="316.80" y="440.06" width="6.85" height="9.22" fill="#70AD47"/><rect x="316.80" y="434.01" width="6.85" height="6.20" fill="#8CB9E2"/><rect x="316.80" y="433.56" width="6.85" height="0.60" fill="#F2A46F"/><rect x="316.80" y="432.96" width="6.85" height="0.75" fill="#C0C0C0"/><rect x="316.80" y="430.69" width="6.85" height="2.42" fill="#FFD34C"/><rect x="316.80" y="416.93" width="6.85" height="13.91" fill="#7C9CD6"/><rect x="316.80" y="416.78" width="6.85" height="0.30" fill="#9BC67E"/><rect x="316.80" y="408.31" width="6.85" height="8.62" fill="#BDD7EE"/><rect x="316.80" y="404.99" width="6.85" height="3.48" fill="#F8CBAD"/><rect x="316.80" y="389.12" width="6.85" height="16.02" fill="#DBDBDB"/><rect x="316.80" y="377.48" width="6.85" height="11.79" fill="#FFE699"/><rect x="316.80" y="377.02" width="6.85" height="0.60" fill="#B4C7E7"/><rect x="316.80" y="370.22" width="6.85" height="6.95" fill="#C6DEB5"/><rect x="316.80" y="369.61" width="6.85" height="0.75" fill="#EBF3FA"/><rect x="316.80" y="369.16" width="6.85" height="0.60" fill="#FDEFE6"/>
<rect x="327.23" y="473.77" width="6.85" height="7.68" fill="#5B9BD5"/><rect x="327.23" y="469.54" width="6.85" height="4.38" fill="#ED7D31"/><rect x="327.23" y="459.41" width="6.85" height="10.28" fill="#A5A5A5"/><rect x="327.23" y="457.45" width="6.85" height="2.12" fill="#FFC000"/><rect x="327.23" y="449.13" width="6.85" height="8.46" fill="#4472C4"/><rect x="327.23" y="439.30" width="6.85" height="9.98" fill="#70AD47"/><rect x="327.23" y="433.26" width="6.85" height="6.20" fill="#8CB9E2"/><rect x="327.23" y="432.80" width="6.85" height="0.60" fill="#F2A46F"/><rect x="327.23" y="431.44" width="6.85" height="1.51" fill="#C0C0C0"/><rect x="327.23" y="428.27" width="6.85" height="3.32" fill="#FFD34C"/><rect x="327.23" y="413.91" width="6.85" height="14.51" fill="#7C9CD6"/><rect x="327.23" y="413.76" width="6.85" height="0.30" fill="#9BC67E"/><rect x="327.23" y="404.08" width="6.85" height="9.82" fill="#BDD7EE"/><rect x="327.23" y="400.76" width="6.85" height="3.48" fill="#F8CBAD"/><rect x="327.23" y="383.82" width="6.85" height="17.08" fill="#DBDBDB"/><rect x="327.23" y="371.43" width="6.85" height="12.55" fill="#FFE699"/><rect x="327.23" y="370.98" width="6.85" height="0.60" fill="#B4C7E7"/><rect x="327.23" y="363.11" width="6.85" height="8.01" fill="#C6DEB5"/><rect x="327.23" y="362.51" width="6.85" height="0.75" fill="#EBF3FA"/><rect x="327.23" y="362.06" width="6.85" height="0.60" fill="#FDEFE6"/>
<rect x="337.65" y="475.59" width="6.85" height="5.86" fill="#5B9BD5"/><rect x="337.65" y="471.81" width="6.85" height="3.93" fill="#ED7D31"/><rect x="337.65" y="461.98" width="6.85" height="9.98" fill="#A5A5A5"/><rect x="337.65" y="460.02" width="6.85" height="2.12" fill="#FFC000"/><rect x="337.65" y="451.40" width="6.85" height="8.77" fill="#4472C4"/><rect x="337.65" y="443.84" width="6.85" height="7.71" fill="#70AD47"/><rect x="337.65" y="437.34" width="6.85" height="6.65" fill="#8CB9E2"/><rect x="337.65" y="436.73" width="6.85" height="0.75" fill="#F2A46F"/><rect x="337.65" y="435.07" width="6.85" height="1.81" fill="#C0C0C0"/><rect x="337.65" y="432.50" width="6.85" height="2.72" fill="#FFD34C"/><rect x="337.65" y="418.14" width="6.85" height="14.51" fill="#7C9CD6"/><rect x="337.65" y="417.99" width="6.85" height="0.30" fill="#9BC67E"/><rect x="337.65" y="408.31" width="6.85" height="9.82" fill="#BDD7EE"/><rect x="337.65" y="404.99" width="6.85" height="3.48" fill="#F8CBAD"/><rect x="337.65" y="387.00" width="6.85" height="18.14" fill="#DBDBDB"/><rect x="337.65" y="374.91" width="6.85" height="12.24" fill="#FFE699"/><rect x="337.65" y="374.45" width="6.85" height="0.60" fill="#B4C7E7"/><rect x="337.65" y="368.10" width="6.85" height="6.50" fill="#C6DEB5"/><rect x="337.65" y="367.65" width="6.85" height="0.60" fill="#EBF3FA"/><rect x="337.65" y="367.20" width="6.85" height="0.60" fill="#FDEFE6"/>
<rect x="348.08" y="475.28" width="6.85" height="6.17" fill="#5B9BD5"/><rect x="348.08" y="471.35" width="6.85" height="4.08" fill="#ED7D31"/><rect x="348.08" y="460.92" width="6.85" height="10.58" fill="#A5A5A5"/><rect x="348.08" y="458.96" width="6.85" height="2.12" fill="#FFC000"/><rect x="348.08" y="449.13" width="6.85" height="9.98" fill="#4472C4"/><rect x="348.08" y="441.12" width="6.85" height="8.16" fill="#70AD47"/><rect x="348.08" y="434.77" width="6.85" height="6.50" fill="#8CB9E2"/><rect x="348.08" y="434.32" width="6.85" height="0.60" fill="#F2A46F"/><rect x="348.08" y="433.26" width="6.85" height="1.21" fill="#C0C0C0"/><rect x="348.08" y="429.93" width="6.85" height="3.48" fill="#FFD34C"/><rect x="348.08" y="415.42" width="6.85" height="14.66" fill="#7C9CD6"/><rect x="348.08" y="415.27" width="6.85" height="0.30" fill="#9BC67E"/><rect x="348.08" y="404.99" width="6.85" height="10.43" fill="#BDD7EE"/><rect x="348.08" y="402.27" width="6.85" height="2.87" fill="#F8CBAD"/><rect x="348.08" y="384.28" width="6.85" height="18.14" fill="#DBDBDB"/><rect x="348.08" y="371.43" width="6.85" height="13.00" fill="#FFE699"/><rect x="348.08" y="370.98" width="6.85" height="0.60" fill="#B4C7E7"/><rect x="348.08" y="365.38" width="6.85" height="5.74" fill="#C6DEB5"/><rect x="348.08" y="364.78" width="6.85" height="0.75" fill="#EBF3FA"/><rect x="348.08" y="364.32" width="6.85" height="0.60" fill="#FDEFE6"/>
<rect x="358.51" y="477.10" width="6.85" height="4.35" fill="#5B9BD5"/><rect x="358.51" y="474.53" width="6.85" height="2.72" fill="#ED7D31"/><rect x="358.51" y="465.31" width="6.85" height="9.37" fill="#A5A5A5"/><rect x="358.51" y="464.25" width="6.85" height="1.21" fill="#FFC000"/><rect x="358.51" y="454.88" width="6.85" height="9.52" fill="#4472C4"/><rect x="358.51" y="448.83" width="6.85" height="6.20" fill="#70AD47"/><rect x="358.51" y="443.84" width="6.85" height="5.14" fill="#8CB9E2"/><rect x="358.51" y="443.39" width="6.85" height="0.60" fill="#F2A46F"/><rect x="358.51" y="442.03" width="6.85" height="1.51" fill="#C0C0C0"/><rect x="358.51" y="439.30" width="6.85" height="2.87" fill="#FFD34C"/><rect x="358.51" y="428.27" width="6.85" height="11.19" fill="#7C9CD6"/><rect x="358.51" y="428.12" width="6.85" height="0.30" fill="#9BC67E"/><rect x="358.51" y="418.59" width="6.85" height="9.67" fill="#BDD7EE"/><rect x="358.51" y="416.93" width="6.85" height="1.81" fill="#F8CBAD"/><rect x="358.51" y="398.94" width="6.85" height="18.14" fill="#DBDBDB"/><rect x="358.51" y="386.09" width="6.85" height="13.00" fill="#FFE699"/><rect x="358.51" y="385.64" width="6.85" height="0.60" fill="#B4C7E7"/><rect x="358.51" y="380.05" width="6.85" height="5.74" fill="#C6DEB5"/><rect x="358.51" y="379.59" width="6.85" height="0.60" fill="#EBF3FA"/><rect x="358.51" y="379.29" width="6.85" height="0.45" fill="#FDEFE6"/>
<rect x="368.94" y="478.16" width="6.85" height="3.29" fill="#5B9BD5"/><rect x="368.94" y="474.53" width="6.85" height="3.78" fill="#ED7D31"/><rect x="368.94" y="466.52" width="6.85" height="8.16" fill="#A5A5A5"/><rect x="368.94" y="465.00" width="6.85" height="1.66" fill="#FFC000"/><rect x="368.94" y="457.45" width="6.85" height="7.71" fill="#4472C4"/><rect x="368.94" y="451.10" width="6.85" height="6.50" fill="#70AD47"/><rect x="368.94" y="447.32" width="6.85" height="3.93" fill="#8CB9E2"/><rect x="368.94" y="446.86" width="6.85" height="0.60" fill="#F2A46F"/><rect x="368.94" y="446.41" width="6.85" height="0.60" fill="#C0C0C0"/><rect x="368.94" y="444.29" width="6.85" height="2.27" fill="#FFD34C"/><rect x="368.94" y="432.80" width="6.85" height="11.64" fill="#7C9CD6"/><rect x="368.94" y="432.65" width="6.85" height="0.30" fill="#9BC67E"/><rect x="368.94" y="423.73" width="6.85" height="9.07" fill="#BDD7EE"/><rect x="368.94" y="422.22" width="6.85" height="1.66" fill="#F8CBAD"/><rect x="368.94" y="403.02" width="6.85" height="19.35" fill="#DBDBDB"/><rect x="368.94" y="388.81" width="6.85" height="14.36" fill="#FFE699"/><rect x="368.94" y="388.36" width="6.85" height="0.60" fill="#B4C7E7"/><rect x="368.94" y="382.77" width="6.85" height="5.74" fill="#C6DEB5"/><rect x="368.94" y="382.16" width="6.85" height="0.75" fill="#EBF3FA"/><rect x="368.94" y="381.71" width="6.85" height="0.60" fill="#FDEFE6"/>
<rect x="379.37" y="477.10" width="6.85" height="4.35" fill="#5B9BD5"/><rect x="379.37" y="473.02" width="6.85" height="4.23" fill="#ED7D31"/><rect x="379.37" y="464.55" width="6.85" height="8.62" fill="#A5A5A5"/><rect x="379.37" y="462.43" width="6.85" height="2.27" fill="#FFC000"/><rect x="379.37" y="452.91" width="6.85" height="9.67" fill="#4472C4"/><rect x="379.37" y="446.86" width="6.85" height="6.20" fill="#70AD47"/><rect x="379.37" y="443.39" width="6.85" height="3.63" fill="#8CB9E2"/><rect x="379.37" y="443.08" width="6.85" height="0.45" fill="#F2A46F"/><rect x="379.37" y="442.78" width="6.85" height="0.45" fill="#C0C0C0"/><rect x="379.37" y="439.30" width="6.85" height="3.63" fill="#FFD34C"/><rect x="379.37" y="426.46" width="6.85" height="13.00" fill="#7C9CD6"/><rect x="379.37" y="426.30" width="6.85" height="0.30" fill="#9BC67E"/><rect x="379.37" y="418.14" width="6.85" height="8.31" fill="#BDD7EE"/><rect x="379.37" y="416.63" width="6.85" height="1.66" fill="#F8CBAD"/><rect x="379.37" y="398.19" width="6.85" height="18.59" fill="#DBDBDB"/><rect x="379.37" y="380.05" width="6.85" height="18.29" fill="#FFE699"/><rect x="379.37" y="379.59" width="6.85" height="0.60" fill="#B4C7E7"/><rect x="379.37" y="374.00" width="6.85" height="5.74" fill="#C6DEB5"/><rect x="379.37" y="373.39" width="6.85" height="0.75" fill="#EBF3FA"/><rect x="379.37" y="372.94" width="6.85" height="0.60" fill="#FDEFE6"/>
<rect x="389.80" y="477.10" width="6.85" height="4.35" fill="#5B9BD5"/><rect x="389.80" y="471.35" width="6.85" height="5.89" fill="#ED7D31"/><rect x="389.80" y="460.47" width="6.85" height="11.03" fill="#A5A5A5"/><rect x="389.80" y="458.20" width="6.85" height="2.42" fill="#FFC000"/><rect x="389.80" y="445.65" width="6.85" height="12.70" fill="#4472C4"/><rect x="389.80" y="439.30" width="6.85" height="6.50" fill="#70AD47"/><rect x="389.80" y="434.77" width="6.85" height="4.69" fill="#8CB9E2"/><rect x="389.80" y="434.47" width="6.85" height="0.45" fill="#F2A46F"/><rect x="389.80" y="434.01" width="6.85" height="0.60" fill="#C0C0C0"/><rect x="389.80" y="429.93" width="6.85" height="4.23" fill="#FFD34C"/><rect x="389.80" y="416.93" width="6.85" height="13.15" fill="#7C9CD6"/><rect x="389.80" y="416.78" width="6.85" height="0.30" fill="#9BC67E"/><rect x="389.80" y="407.26" width="6.85" height="9.67" fill="#BDD7EE"/><rect x="389.80" y="405.74" width="6.85" height="1.66" fill="#F8CBAD"/><rect x="389.80" y="387.00" width="6.85" height="18.90" fill="#DBDBDB"/><rect x="389.80" y="366.44" width="6.85" height="20.71" fill="#FFE699"/><rect x="389.80" y="365.99" width="6.85" height="0.60" fill="#B4C7E7"/><rect x="389.80" y="357.82" width="6.85" height="8.31" fill="#C6DEB5"/><rect x="389.80" y="357.22" width="6.85" height="0.75" fill="#EBF3FA"/><rect x="389.80" y="356.76" width="6.85" height="0.60" fill="#FDEFE6"/>
<rect x="400.23" y="473.02" width="6.85" height="8.43" fill="#5B9BD5"/><rect x="400.23" y="465.31" width="6.85" height="7.86" fill="#ED7D31"/><rect x="400.23" y="453.21" width="6.85" height="12.24" fill="#A5A5A5"/><rect x="400.23" y="449.58" width="6.85" height="3.78" fill="#FFC000"/><rect x="400.23" y="429.02" width="6.85" height="20.71" fill="#4472C4"/><rect x="400.23" y="421.16" width="6.85" height="8.01" fill="#70AD47"/><rect x="400.23" y="415.42" width="6.85" height="5.89" fill="#8CB9E2"/><rect x="400.23" y="415.12" width="6.85" height="0.45" fill="#F2A46F"/><rect x="400.23" y="414.81" width="6.85" height="0.45" fill="#C0C0C0"/><rect x="400.23" y="410.13" width="6.85" height="4.84" fill="#FFD34C"/><rect x="400.23" y="395.62" width="6.85" height="14.66" fill="#7C9CD6"/><rect x="400.23" y="395.46" width="6.85" height="0.30" fill="#9BC67E"/><rect x="400.23" y="384.73" width="6.85" height="10.88" fill="#BDD7EE"/><rect x="400.23" y="383.22" width="6.85" height="1.66" fill="#F8CBAD"/><rect x="400.23" y="363.87" width="6.85" height="19.50" fill="#DBDBDB"/><rect x="400.23" y="343.01" width="6.85" height="21.01" fill="#FFE699"/><rect x="400.23" y="342.25" width="6.85" height="0.91" fill="#B4C7E7"/><rect x="400.23" y="329.40" width="6.85" height="13.00" fill="#C6DEB5"/><rect x="400.23" y="328.34" width="6.85" height="1.21" fill="#EBF3FA"/><rect x="400.23" y="326.83" width="6.85" height="1.66" fill="#FDEFE6"/>
<rect x="410.66" y="467.72" width="6.85" height="13.73" fill="#5B9BD5"/><rect x="410.66" y="458.96" width="6.85" height="8.92" fill="#ED7D31"/><rect x="410.66" y="445.65" width="6.85" height="13.45" fill="#A5A5A5"/><rect x="410.66" y="441.12" width="6.85" height="4.69" fill="#FFC000"/><rect x="410.66" y="416.18" width="6.85" height="25.09" fill="#4472C4"/><rect x="410.66" y="406.80" width="6.85" height="9.52" fill="#70AD47"/><rect x="410.66" y="402.72" width="6.85" height="4.23" fill="#8CB9E2"/><rect x="410.66" y="402.27" width="6.85" height="0.60" fill="#F2A46F"/><rect x="410.66" y="401.51" width="6.85" height="0.91" fill="#C0C0C0"/><rect x="410.66" y="393.80" width="6.85" height="7.86" fill="#FFD34C"/><rect x="410.66" y="378.23" width="6.85" height="15.72" fill="#7C9CD6"/><rect x="410.66" y="378.08" width="6.85" height="0.30" fill="#9BC67E"/><rect x="410.66" y="366.14" width="6.85" height="12.09" fill="#BDD7EE"/><rect x="410.66" y="364.32" width="6.85" height="1.96" fill="#F8CBAD"/><rect x="410.66" y="345.73" width="6.85" height="18.74" fill="#DBDBDB"/><rect x="410.66" y="320.79" width="6.85" height="25.09" fill="#FFE699"/><rect x="410.66" y="320.48" width="6.85" height="0.45" fill="#B4C7E7"/><rect x="410.66" y="302.80" width="6.85" height="17.84" fill="#C6DEB5"/><rect x="410.66" y="302.04" width="6.85" height="0.91" fill="#EBF3FA"/><rect x="410.66" y="301.28" width="6.85" height="0.91" fill="#FDEFE6"/>
<rect x="421.09" y="465.31" width="6.85" height="16.14" fill="#5B9BD5"/><rect x="421.09" y="455.63" width="6.85" height="9.82" fill="#ED7D31"/><rect x="421.09" y="443.08" width="6.85" height="12.70" fill="#A5A5A5"/><rect x="421.09" y="438.55" width="6.85" height="4.69" fill="#FFC000"/><rect x="421.09" y="414.66" width="6.85" height="24.04" fill="#4472C4"/><rect x="421.09" y="406.05" width="6.85" height="8.77" fill="#70AD47"/><rect x="421.09" y="400.91" width="6.85" height="5.29" fill="#8CB9E2"/><rect x="421.09" y="400.45" width="6.85" height="0.60" fill="#F2A46F"/><rect x="421.09" y="399.85" width="6.85" height="0.75" fill="#C0C0C0"/><rect x="421.09" y="392.14" width="6.85" height="7.86" fill="#FFD34C"/><rect x="421.09" y="377.78" width="6.85" height="14.51" fill="#7C9CD6"/><rect x="421.09" y="377.63" width="6.85" height="0.30" fill="#9BC67E"/><rect x="421.09" y="366.44" width="6.85" height="11.34" fill="#BDD7EE"/><rect x="421.09" y="364.63" width="6.85" height="1.96" fill="#F8CBAD"/><rect x="421.09" y="346.79" width="6.85" height="17.99" fill="#DBDBDB"/><rect x="421.09" y="323.05" width="6.85" height="23.88" fill="#FFE699"/><rect x="421.09" y="322.75" width="6.85" height="0.45" fill="#B4C7E7"/><rect x="421.09" y="303.55" width="6.85" height="19.35" fill="#C6DEB5"/><rect x="421.09" y="302.80" width="6.85" height="0.91" fill="#EBF3FA"/><rect x="421.09" y="302.04" width="6.85" height="0.91" fill="#FDEFE6"/>
<rect x="431.51" y="465.31" width="6.85" height="16.14" fill="#5B9BD5"/><rect x="431.51" y="455.63" width="6.85" height="9.82" fill="#ED7D31"/><rect x="431.51" y="442.03" width="6.85" height="13.76" fill="#A5A5A5"/><rect x="431.51" y="437.79" width="6.85" height="4.38" fill="#FFC000"/><rect x="431.51" y="412.09" width="6.85" height="25.85" fill="#4472C4"/><rect x="431.51" y="403.02" width="6.85" height="9.22" fill="#70AD47"/><rect x="431.51" y="397.88" width="6.85" height="5.29" fill="#8CB9E2"/><rect x="431.51" y="397.58" width="6.85" height="0.45" fill="#F2A46F"/><rect x="431.51" y="397.13" width="6.85" height="0.60" fill="#C0C0C0"/><rect x="431.51" y="388.51" width="6.85" height="8.77" fill="#FFD34C"/><rect x="431.51" y="372.49" width="6.85" height="16.17" fill="#7C9CD6"/><rect x="431.51" y="372.18" width="6.85" height="0.45" fill="#9BC67E"/><rect x="431.51" y="360.39" width="6.85" height="11.94" fill="#BDD7EE"/><rect x="431.51" y="358.58" width="6.85" height="1.96" fill="#F8CBAD"/><rect x="431.51" y="339.68" width="6.85" height="19.05" fill="#DBDBDB"/><rect x="431.51" y="318.97" width="6.85" height="20.86" fill="#FFE699"/><rect x="431.51" y="318.52" width="6.85" height="0.60" fill="#B4C7E7"/><rect x="431.51" y="298.56" width="6.85" height="20.10" fill="#C6DEB5"/><rect x="431.51" y="297.81" width="6.85" height="0.91" fill="#EBF3FA"/><rect x="431.51" y="297.05" width="6.85" height="0.91" fill="#FDEFE6"/>
<rect x="441.94" y="463.49" width="6.85" height="17.96" fill="#5B9BD5"/><rect x="441.94" y="452.91" width="6.85" height="10.73" fill="#ED7D31"/><rect x="441.94" y="437.79" width="6.85" height="15.27" fill="#A5A5A5"/><rect x="441.94" y="430.69" width="6.85" height="7.26" fill="#FFC000"/><rect x="441.94" y="406.80" width="6.85" height="24.04" fill="#4472C4"/><rect x="441.94" y="396.07" width="6.85" height="10.88" fill="#70AD47"/><rect x="441.94" y="390.78" width="6.85" height="5.44" fill="#8CB9E2"/><rect x="441.94" y="389.87" width="6.85" height="1.06" fill="#F2A46F"/><rect x="441.94" y="388.81" width="6.85" height="1.21" fill="#C0C0C0"/><rect x="441.94" y="378.99" width="6.85" height="9.98" fill="#FFD34C"/><rect x="441.94" y="361.90" width="6.85" height="17.23" fill="#7C9CD6"/><rect x="441.94" y="361.15" width="6.85" height="0.91" fill="#9BC67E"/><rect x="441.94" y="347.54" width="6.85" height="13.76" fill="#BDD7EE"/><rect x="441.94" y="345.73" width="6.85" height="1.96" fill="#F8CBAD"/><rect x="441.94" y="327.59" width="6.85" height="18.29" fill="#DBDBDB"/><rect x="441.94" y="303.55" width="6.85" height="24.19" fill="#FFE699"/><rect x="441.94" y="303.10" width="6.85" height="0.60" fill="#B4C7E7"/><rect x="441.94" y="283.14" width="6.85" height="20.10" fill="#C6DEB5"/><rect x="441.94" y="281.93" width="6.85" height="1.36" fill="#EBF3FA"/><rect x="441.94" y="280.42" width="6.85" height="1.66" fill="#FDEFE6"/>
<rect x="452.37" y="464.25" width="6.85" height="17.20" fill="#5B9BD5"/><rect x="452.37" y="452.15" width="6.85" height="12.24" fill="#ED7D31"/><rect x="452.37" y="437.04" width="6.85" height="15.27" fill="#A5A5A5"/><rect x="452.37" y="429.18" width="6.85" height="8.01" fill="#FFC000"/><rect x="452.37" y="408.62" width="6.85" height="20.71" fill="#4472C4"/><rect x="452.37" y="397.13" width="6.85" height="11.64" fill="#70AD47"/><rect x="452.37" y="392.14" width="6.85" height="5.14" fill="#8CB9E2"/><rect x="452.37" y="391.08" width="6.85" height="1.21" fill="#F2A46F"/><rect x="452.37" y="389.57" width="6.85" height="1.66" fill="#C0C0C0"/><rect x="452.37" y="380.05" width="6.85" height="9.67" fill="#FFD34C"/><rect x="452.37" y="362.81" width="6.85" height="17.38" fill="#7C9CD6"/><rect x="452.37" y="362.06" width="6.85" height="0.91" fill="#9BC67E"/><rect x="452.37" y="349.06" width="6.85" height="13.15" fill="#BDD7EE"/><rect x="452.37" y="346.94" width="6.85" height="2.27" fill="#F8CBAD"/><rect x="452.37" y="329.40" width="6.85" height="17.69" fill="#DBDBDB"/><rect x="452.37" y="307.03" width="6.85" height="22.52" fill="#FFE699"/><rect x="452.37" y="306.58" width="6.85" height="0.60" fill="#B4C7E7"/><rect x="452.37" y="286.17" width="6.85" height="20.56" fill="#C6DEB5"/><rect x="452.37" y="284.96" width="6.85" height="1.36" fill="#EBF3FA"/><rect x="452.37" y="283.90" width="6.85" height="1.21" fill="#FDEFE6"/>
<rect x="462.80" y="460.92" width="6.85" height="20.53" fill="#5B9BD5"/><rect x="462.80" y="448.83" width="6.85" height="12.24" fill="#ED7D31"/><rect x="462.80" y="432.50" width="6.85" height="16.48" fill="#A5A5A5"/><rect x="462.80" y="423.89" width="6.85" height="8.77" fill="#FFC000"/><rect x="462.80" y="400.76" width="6.85" height="23.28" fill="#4472C4"/><rect x="462.80" y="389.27" width="6.85" height="11.64" fill="#70AD47"/><rect x="462.80" y="384.28" width="6.85" height="5.14" fill="#8CB9E2"/><rect x="462.80" y="383.52" width="6.85" height="0.91" fill="#F2A46F"/><rect x="462.80" y="382.77" width="6.85" height="0.91" fill="#C0C0C0"/><rect x="462.80" y="374.00" width="6.85" height="8.92" fill="#FFD34C"/><rect x="462.80" y="356.76" width="6.85" height="17.38" fill="#7C9CD6"/><rect x="462.80" y="356.01" width="6.85" height="0.91" fill="#9BC67E"/><rect x="462.80" y="343.01" width="6.85" height="13.15" fill="#BDD7EE"/><rect x="462.80" y="340.89" width="6.85" height="2.27" fill="#F8CBAD"/><rect x="462.80" y="323.36" width="6.85" height="17.69" fill="#DBDBDB"/><rect x="462.80" y="299.02" width="6.85" height="24.49" fill="#FFE699"/><rect x="462.80" y="298.56" width="6.85" height="0.60" fill="#B4C7E7"/><rect x="462.80" y="280.42" width="6.85" height="18.29" fill="#C6DEB5"/><rect x="462.80" y="279.06" width="6.85" height="1.51" fill="#EBF3FA"/><rect x="462.80" y="277.55" width="6.85" height="1.66" fill="#FDEFE6"/>
<rect x="473.23" y="456.69" width="6.85" height="24.76" fill="#5B9BD5"/><rect x="473.23" y="442.03" width="6.85" height="14.81" fill="#ED7D31"/><rect x="473.23" y="424.19" width="6.85" height="17.99" fill="#A5A5A5"/><rect x="473.23" y="415.12" width="6.85" height="9.22" fill="#FFC000"/><rect x="473.23" y="389.57" width="6.85" height="25.70" fill="#4472C4"/><rect x="473.23" y="377.02" width="6.85" height="12.70" fill="#70AD47"/><rect x="473.23" y="373.39" width="6.85" height="3.78" fill="#8CB9E2"/><rect x="473.23" y="371.73" width="6.85" height="1.81" fill="#F2A46F"/><rect x="473.23" y="370.67" width="6.85" height="1.21" fill="#C0C0C0"/><rect x="473.23" y="361.90" width="6.85" height="8.92" fill="#FFD34C"/><rect x="473.23" y="342.25" width="6.85" height="19.80" fill="#7C9CD6"/><rect x="473.23" y="341.95" width="6.85" height="0.45" fill="#9BC67E"/><rect x="473.23" y="329.40" width="6.85" height="12.70" fill="#BDD7EE"/><rect x="473.23" y="326.83" width="6.85" height="2.72" fill="#F8CBAD"/><rect x="473.23" y="308.84" width="6.85" height="18.14" fill="#DBDBDB"/><rect x="473.23" y="284.66" width="6.85" height="24.34" fill="#FFE699"/><rect x="473.23" y="284.20" width="6.85" height="0.60" fill="#B4C7E7"/><rect x="473.23" y="265.00" width="6.85" height="19.35" fill="#C6DEB5"/><rect x="473.23" y="263.49" width="6.85" height="1.66" fill="#EBF3FA"/><rect x="473.23" y="261.68" width="6.85" height="1.96" fill="#FDEFE6"/>
<rect x="483.66" y="457.45" width="6.85" height="24.00" fill="#5B9BD5"/><rect x="483.66" y="443.08" width="6.85" height="14.51" fill="#ED7D31"/><rect x="483.66" y="426.76" width="6.85" height="16.48" fill="#A5A5A5"/><rect x="483.66" y="419.35" width="6.85" height="7.56" fill="#FFC000"/><rect x="483.66" y="396.07" width="6.85" height="23.43" fill="#4472C4"/><rect x="483.66" y="386.09" width="6.85" height="10.13" fill="#70AD47"/><rect x="483.66" y="383.07" width="6.85" height="3.17" fill="#8CB9E2"/><rect x="483.66" y="382.01" width="6.85" height="1.21" fill="#F2A46F"/><rect x="483.66" y="380.95" width="6.85" height="1.21" fill="#C0C0C0"/><rect x="483.66" y="372.18" width="6.85" height="8.92" fill="#FFD34C"/><rect x="483.66" y="354.35" width="6.85" height="17.99" fill="#7C9CD6"/><rect x="483.66" y="353.29" width="6.85" height="1.21" fill="#9BC67E"/><rect x="483.66" y="342.25" width="6.85" height="11.19" fill="#BDD7EE"/><rect x="483.66" y="339.68" width="6.85" height="2.72" fill="#F8CBAD"/><rect x="483.66" y="323.36" width="6.85" height="16.48" fill="#DBDBDB"/><rect x="483.66" y="300.98" width="6.85" height="22.52" fill="#FFE699"/><rect x="483.66" y="300.53" width="6.85" height="0.60" fill="#B4C7E7"/><rect x="483.66" y="283.90" width="6.85" height="16.78" fill="#C6DEB5"/><rect x="483.66" y="282.69" width="6.85" height="1.36" fill="#EBF3FA"/><rect x="483.66" y="281.18" width="6.85" height="1.66" fill="#FDEFE6"/>
<rect x="494.09" y="457.45" width="6.85" height="24.00" fill="#5B9BD5"/><rect x="494.09" y="442.78" width="6.85" height="14.81" fill="#ED7D31"/><rect x="494.09" y="426.76" width="6.85" height="16.17" fill="#A5A5A5"/><rect x="494.09" y="419.35" width="6.85" height="7.56" fill="#FFC000"/><rect x="494.09" y="395.62" width="6.85" height="23.88" fill="#4472C4"/><rect x="494.09" y="385.03" width="6.85" height="10.73" fill="#70AD47"/><rect x="494.09" y="382.77" width="6.85" height="2.42" fill="#8CB9E2"/><rect x="494.09" y="381.71" width="6.85" height="1.21" fill="#F2A46F"/><rect x="494.09" y="380.95" width="6.85" height="0.91" fill="#C0C0C0"/><rect x="494.09" y="372.18" width="6.85" height="8.92" fill="#FFD34C"/><rect x="494.09" y="353.29" width="6.85" height="19.05" fill="#7C9CD6"/><rect x="494.09" y="352.23" width="6.85" height="1.21" fill="#9BC67E"/><rect x="494.09" y="342.25" width="6.85" height="10.13" fill="#BDD7EE"/><rect x="494.09" y="339.68" width="6.85" height="2.72" fill="#F8CBAD"/><rect x="494.09" y="323.36" width="6.85" height="16.48" fill="#DBDBDB"/><rect x="494.09" y="304.31" width="6.85" height="19.20" fill="#FFE699"/><rect x="494.09" y="303.85" width="6.85" height="0.60" fill="#B4C7E7"/><rect x="494.09" y="287.23" width="6.85" height="16.78" fill="#C6DEB5"/><rect x="494.09" y="285.87" width="6.85" height="1.51" fill="#EBF3FA"/><rect x="494.09" y="284.66" width="6.85" height="1.36" fill="#FDEFE6"/>
<rect x="504.52" y="454.88" width="6.85" height="26.57" fill="#5B9BD5"/><rect x="504.52" y="439.61" width="6.85" height="15.42" fill="#ED7D31"/><rect x="504.52" y="424.19" width="6.85" height="15.57" fill="#A5A5A5"/><rect x="504.52" y="415.87" width="6.85" height="8.46" fill="#FFC000"/><rect x="504.52" y="390.33" width="6.85" height="25.70" fill="#4472C4"/><rect x="504.52" y="380.05" width="6.85" height="10.43" fill="#70AD47"/><rect x="504.52" y="377.02" width="6.85" height="3.17" fill="#8CB9E2"/><rect x="504.52" y="375.66" width="6.85" height="1.51" fill="#F2A46F"/><rect x="504.52" y="374.75" width="6.85" height="1.06" fill="#C0C0C0"/><rect x="504.52" y="366.14" width="6.85" height="8.77" fill="#FFD34C"/><rect x="504.52" y="346.79" width="6.85" height="19.50" fill="#7C9CD6"/><rect x="504.52" y="346.03" width="6.85" height="0.91" fill="#9BC67E"/><rect x="504.52" y="334.39" width="6.85" height="11.79" fill="#BDD7EE"/><rect x="504.52" y="332.12" width="6.85" height="2.42" fill="#F8CBAD"/><rect x="504.52" y="314.59" width="6.85" height="17.69" fill="#DBDBDB"/><rect x="504.52" y="295.69" width="6.85" height="19.05" fill="#FFE699"/><rect x="504.52" y="295.24" width="6.85" height="0.60" fill="#B4C7E7"/><rect x="504.52" y="276.04" width="6.85" height="19.35" fill="#C6DEB5"/><rect x="504.52" y="274.53" width="6.85" height="1.66" fill="#EBF3FA"/><rect x="504.52" y="272.56" width="6.85" height="2.12" fill="#FDEFE6"/>
<rect x="514.95" y="454.88" width="6.85" height="26.57" fill="#5B9BD5"/><rect x="514.95" y="442.03" width="6.85" height="13.00" fill="#ED7D31"/><rect x="514.95" y="427.51" width="6.85" height="14.66" fill="#A5A5A5"/><rect x="514.95" y="421.16" width="6.85" height="6.50" fill="#FFC000"/><rect x="514.95" y="397.13" width="6.85" height="24.19" fill="#4472C4"/><rect x="514.95" y="387.00" width="6.85" height="10.28" fill="#70AD47"/><rect x="514.95" y="384.73" width="6.85" height="2.42" fill="#8CB9E2"/><rect x="514.95" y="383.52" width="6.85" height="1.36" fill="#F2A46F"/><rect x="514.95" y="382.46" width="6.85" height="1.21" fill="#C0C0C0"/><rect x="514.95" y="374.75" width="6.85" height="7.86" fill="#FFD34C"/><rect x="514.95" y="357.82" width="6.85" height="17.08" fill="#7C9CD6"/><rect x="514.95" y="356.31" width="6.85" height="1.66" fill="#9BC67E"/><rect x="514.95" y="345.73" width="6.85" height="10.73" fill="#BDD7EE"/><rect x="514.95" y="343.76" width="6.85" height="2.12" fill="#F8CBAD"/><rect x="514.95" y="329.40" width="6.85" height="14.51" fill="#DBDBDB"/><rect x="514.95" y="311.41" width="6.85" height="18.14" fill="#FFE699"/><rect x="514.95" y="309.90" width="6.85" height="1.66" fill="#B4C7E7"/><rect x="514.95" y="291.46" width="6.85" height="18.59" fill="#C6DEB5"/><rect x="514.95" y="289.64" width="6.85" height="1.96" fill="#EBF3FA"/><rect x="514.95" y="287.38" width="6.85" height="2.42" fill="#FDEFE6"/>
<rect x="525.38" y="453.21" width="6.85" height="28.24" fill="#5B9BD5"/><rect x="525.38" y="438.85" width="6.85" height="14.51" fill="#ED7D31"/><rect x="525.38" y="423.13" width="6.85" height="15.87" fill="#A5A5A5"/><rect x="525.38" y="415.87" width="6.85" height="7.41" fill="#FFC000"/><rect x="525.38" y="390.33" width="6.85" height="25.70" fill="#4472C4"/><rect x="525.38" y="380.05" width="6.85" height="10.43" fill="#70AD47"/><rect x="525.38" y="378.23" width="6.85" height="1.96" fill="#8CB9E2"/><rect x="525.38" y="377.02" width="6.85" height="1.36" fill="#F2A46F"/><rect x="525.38" y="375.96" width="6.85" height="1.21" fill="#C0C0C0"/><rect x="525.38" y="368.86" width="6.85" height="7.26" fill="#FFD34C"/><rect x="525.38" y="352.53" width="6.85" height="16.48" fill="#7C9CD6"/><rect x="525.38" y="351.78" width="6.85" height="0.91" fill="#9BC67E"/><rect x="525.38" y="341.19" width="6.85" height="10.73" fill="#BDD7EE"/><rect x="525.38" y="339.68" width="6.85" height="1.66" fill="#F8CBAD"/><rect x="525.38" y="325.32" width="6.85" height="14.51" fill="#DBDBDB"/><rect x="525.38" y="305.06" width="6.85" height="20.41" fill="#FFE699"/><rect x="525.38" y="304.61" width="6.85" height="0.60" fill="#B4C7E7"/><rect x="525.38" y="284.66" width="6.85" height="20.10" fill="#C6DEB5"/><rect x="525.38" y="283.14" width="6.85" height="1.66" fill="#EBF3FA"/><rect x="525.38" y="281.18" width="6.85" height="2.12" fill="#FDEFE6"/>
<rect x="535.81" y="450.64" width="6.85" height="30.81" fill="#5B9BD5"/><rect x="535.81" y="435.83" width="6.85" height="14.96" fill="#ED7D31"/><rect x="535.81" y="419.65" width="6.85" height="16.33" fill="#A5A5A5"/><rect x="535.81" y="412.85" width="6.85" height="6.95" fill="#FFC000"/><rect x="535.81" y="383.52" width="6.85" height="29.48" fill="#4472C4"/><rect x="535.81" y="373.24" width="6.85" height="10.43" fill="#70AD47"/><rect x="535.81" y="369.16" width="6.85" height="4.23" fill="#8CB9E2"/><rect x="535.81" y="368.10" width="6.85" height="1.21" fill="#F2A46F"/><rect x="535.81" y="367.20" width="6.85" height="1.06" fill="#C0C0C0"/><rect x="535.81" y="359.33" width="6.85" height="8.01" fill="#FFD34C"/><rect x="535.81" y="342.71" width="6.85" height="16.78" fill="#7C9CD6"/><rect x="535.81" y="341.95" width="6.85" height="0.91" fill="#9BC67E"/><rect x="535.81" y="330.91" width="6.85" height="11.19" fill="#BDD7EE"/><rect x="535.81" y="329.40" width="6.85" height="1.66" fill="#F8CBAD"/><rect x="535.81" y="314.59" width="6.85" height="14.96" fill="#DBDBDB"/><rect x="535.81" y="295.69" width="6.85" height="19.05" fill="#FFE699"/><rect x="535.81" y="295.24" width="6.85" height="0.60" fill="#B4C7E7"/><rect x="535.81" y="273.62" width="6.85" height="21.77" fill="#C6DEB5"/><rect x="535.81" y="271.81" width="6.85" height="1.96" fill="#EBF3FA"/><rect x="535.81" y="269.84" width="6.85" height="2.12" fill="#FDEFE6"/>
<rect x="546.23" y="450.64" width="6.85" height="30.81" fill="#5B9BD5"/><rect x="546.23" y="435.07" width="6.85" height="15.72" fill="#ED7D31"/><rect x="546.23" y="417.08" width="6.85" height="18.14" fill="#A5A5A5"/><rect x="546.23" y="410.88" width="6.85" height="6.35" fill="#FFC000"/><rect x="546.23" y="380.05" width="6.85" height="30.99" fill="#4472C4"/><rect x="546.23" y="369.92" width="6.85" height="10.28" fill="#70AD47"/><rect x="546.23" y="366.14" width="6.85" height="3.93" fill="#8CB9E2"/><rect x="546.23" y="364.63" width="6.85" height="1.66" fill="#F2A46F"/><rect x="546.23" y="363.57" width="6.85" height="1.21" fill="#C0C0C0"/><rect x="546.23" y="356.76" width="6.85" height="6.95" fill="#FFD34C"/><rect x="546.23" y="341.95" width="6.85" height="14.96" fill="#7C9CD6"/><rect x="546.23" y="341.19" width="6.85" height="0.91" fill="#9BC67E"/><rect x="546.23" y="330.61" width="6.85" height="10.73" fill="#BDD7EE"/><rect x="546.23" y="328.65" width="6.85" height="2.12" fill="#F8CBAD"/><rect x="546.23" y="314.13" width="6.85" height="14.66" fill="#DBDBDB"/><rect x="546.23" y="297.20" width="6.85" height="17.08" fill="#FFE699"/><rect x="546.23" y="296.75" width="6.85" height="0.60" fill="#B4C7E7"/><rect x="546.23" y="274.38" width="6.85" height="22.52" fill="#C6DEB5"/><rect x="546.23" y="272.56" width="6.85" height="1.96" fill="#EBF3FA"/><rect x="546.23" y="270.75" width="6.85" height="1.96" fill="#FDEFE6"/>
<rect x="556.66" y="445.35" width="6.85" height="36.10" fill="#5B9BD5"/><rect x="556.66" y="427.97" width="6.85" height="17.53" fill="#ED7D31"/><rect x="556.66" y="407.56" width="6.85" height="20.56" fill="#A5A5A5"/><rect x="556.66" y="399.70" width="6.85" height="8.01" fill="#FFC000"/><rect x="556.66" y="363.11" width="6.85" height="36.73" fill="#4472C4"/><rect x="556.66" y="351.02" width="6.85" height="12.24" fill="#70AD47"/><rect x="556.66" y="345.73" width="6.85" height="5.44" fill="#8CB9E2"/><rect x="556.66" y="343.76" width="6.85" height="2.12" fill="#F2A46F"/><rect x="556.66" y="342.40" width="6.85" height="1.51" fill="#C0C0C0"/><rect x="556.66" y="335.15" width="6.85" height="7.41" fill="#FFD34C"/><rect x="556.66" y="319.73" width="6.85" height="15.57" fill="#7C9CD6"/><rect x="556.66" y="318.97" width="6.85" height="0.91" fill="#9BC67E"/><rect x="556.66" y="306.12" width="6.85" height="13.00" fill="#BDD7EE"/><rect x="556.66" y="303.55" width="6.85" height="2.72" fill="#F8CBAD"/><rect x="556.66" y="287.23" width="6.85" height="16.48" fill="#DBDBDB"/><rect x="556.66" y="268.03" width="6.85" height="19.35" fill="#FFE699"/><rect x="556.66" y="267.57" width="6.85" height="0.60" fill="#B4C7E7"/><rect x="556.66" y="240.82" width="6.85" height="26.91" fill="#C6DEB5"/><rect x="556.66" y="238.85" width="6.85" height="2.12" fill="#EBF3FA"/><rect x="556.66" y="236.73" width="6.85" height="2.27" fill="#FDEFE6"/>
<rect x="567.09" y="440.06" width="6.85" height="41.39" fill="#5B9BD5"/><rect x="567.09" y="419.35" width="6.85" height="20.86" fill="#ED7D31"/><rect x="567.09" y="395.62" width="6.85" height="23.88" fill="#A5A5A5"/><rect x="567.09" y="385.34" width="6.85" height="10.43" fill="#FFC000"/><rect x="567.09" y="343.92" width="6.85" height="41.57" fill="#4472C4"/><rect x="567.09" y="330.16" width="6.85" height="13.91" fill="#70AD47"/><rect x="567.09" y="322.60" width="6.85" height="7.71" fill="#8CB9E2"/><rect x="567.09" y="320.94" width="6.85" height="1.81" fill="#F2A46F"/><rect x="567.09" y="318.22" width="6.85" height="2.87" fill="#C0C0C0"/><rect x="567.09" y="309.60" width="6.85" height="8.77" fill="#FFD34C"/><rect x="567.09" y="291.46" width="6.85" height="18.29" fill="#7C9CD6"/><rect x="567.09" y="290.40" width="6.85" height="1.21" fill="#9BC67E"/><rect x="567.09" y="275.89" width="6.85" height="14.66" fill="#BDD7EE"/><rect x="567.09" y="272.26" width="6.85" height="3.78" fill="#F8CBAD"/><rect x="567.09" y="254.42" width="6.85" height="17.99" fill="#DBDBDB"/><rect x="567.09" y="232.20" width="6.85" height="22.37" fill="#FFE699"/><rect x="567.09" y="230.99" width="6.85" height="1.36" fill="#B4C7E7"/><rect x="567.09" y="199.24" width="6.85" height="31.90" fill="#C6DEB5"/><rect x="567.09" y="197.28" width="6.85" height="2.12" fill="#EBF3FA"/><rect x="567.09" y="193.50" width="6.85" height="3.93" fill="#FDEFE6"/>
<rect x="577.52" y="438.55" width="6.85" height="42.90" fill="#5B9BD5"/><rect x="577.52" y="416.63" width="6.85" height="22.07" fill="#ED7D31"/><rect x="577.52" y="391.38" width="6.85" height="25.40" fill="#A5A5A5"/><rect x="577.52" y="380.95" width="6.85" height="10.58" fill="#FFC000"/><rect x="577.52" y="339.68" width="6.85" height="41.42" fill="#4472C4"/><rect x="577.52" y="325.02" width="6.85" height="14.81" fill="#70AD47"/><rect x="577.52" y="316.40" width="6.85" height="8.77" fill="#8CB9E2"/><rect x="577.52" y="314.44" width="6.85" height="2.12" fill="#F2A46F"/><rect x="577.52" y="312.32" width="6.85" height="2.27" fill="#C0C0C0"/><rect x="577.52" y="301.74" width="6.85" height="10.73" fill="#FFD34C"/><rect x="577.52" y="285.11" width="6.85" height="16.78" fill="#7C9CD6"/><rect x="577.52" y="284.20" width="6.85" height="1.06" fill="#9BC67E"/><rect x="577.52" y="269.09" width="6.85" height="15.27" fill="#BDD7EE"/><rect x="577.52" y="265.00" width="6.85" height="4.23" fill="#F8CBAD"/><rect x="577.52" y="246.86" width="6.85" height="18.29" fill="#DBDBDB"/><rect x="577.52" y="223.43" width="6.85" height="23.58" fill="#FFE699"/><rect x="577.52" y="222.22" width="6.85" height="1.36" fill="#B4C7E7"/><rect x="577.52" y="187.15" width="6.85" height="35.22" fill="#C6DEB5"/><rect x="577.52" y="185.19" width="6.85" height="2.12" fill="#EBF3FA"/><rect x="577.52" y="182.16" width="6.85" height="3.17" fill="#FDEFE6"/>
<rect x="587.95" y="438.55" width="6.85" height="42.90" fill="#5B9BD5"/><rect x="587.95" y="416.18" width="6.85" height="22.52" fill="#ED7D31"/><rect x="587.95" y="389.87" width="6.85" height="26.45" fill="#A5A5A5"/><rect x="587.95" y="380.05" width="6.85" height="9.98" fill="#FFC000"/><rect x="587.95" y="340.44" width="6.85" height="39.76" fill="#4472C4"/><rect x="587.95" y="325.02" width="6.85" height="15.57" fill="#70AD47"/><rect x="587.95" y="316.40" width="6.85" height="8.77" fill="#8CB9E2"/><rect x="587.95" y="314.44" width="6.85" height="2.12" fill="#F2A46F"/><rect x="587.95" y="312.32" width="6.85" height="2.27" fill="#C0C0C0"/><rect x="587.95" y="302.49" width="6.85" height="9.98" fill="#FFD34C"/><rect x="587.95" y="284.66" width="6.85" height="17.99" fill="#7C9CD6"/><rect x="587.95" y="283.60" width="6.85" height="1.21" fill="#9BC67E"/><rect x="587.95" y="268.03" width="6.85" height="15.72" fill="#BDD7EE"/><rect x="587.95" y="263.04" width="6.85" height="5.14" fill="#F8CBAD"/><rect x="587.95" y="245.05" width="6.85" height="18.14" fill="#DBDBDB"/><rect x="587.95" y="222.68" width="6.85" height="22.52" fill="#FFE699"/><rect x="587.95" y="221.47" width="6.85" height="1.36" fill="#B4C7E7"/><rect x="587.95" y="186.70" width="6.85" height="34.92" fill="#C6DEB5"/><rect x="587.95" y="184.58" width="6.85" height="2.27" fill="#EBF3FA"/><rect x="587.95" y="181.56" width="6.85" height="3.17" fill="#FDEFE6"/>
<rect x="598.38" y="436.73" width="6.85" height="44.72" fill="#5B9BD5"/><rect x="598.38" y="414.36" width="6.85" height="22.52" fill="#ED7D31"/><rect x="598.38" y="385.34" width="6.85" height="29.17" fill="#A5A5A5"/><rect x="598.38" y="374.00" width="6.85" height="11.49" fill="#FFC000"/><rect x="598.38" y="333.64" width="6.85" height="40.51" fill="#4472C4"/><rect x="598.38" y="319.12" width="6.85" height="14.66" fill="#70AD47"/><rect x="598.38" y="308.84" width="6.85" height="10.43" fill="#8CB9E2"/><rect x="598.38" y="307.03" width="6.85" height="1.96" fill="#F2A46F"/><rect x="598.38" y="304.61" width="6.85" height="2.57" fill="#C0C0C0"/><rect x="598.38" y="294.03" width="6.85" height="10.73" fill="#FFD34C"/><rect x="598.38" y="276.80" width="6.85" height="17.38" fill="#7C9CD6"/><rect x="598.38" y="275.89" width="6.85" height="1.06" fill="#9BC67E"/><rect x="598.38" y="257.90" width="6.85" height="18.14" fill="#BDD7EE"/><rect x="598.38" y="252.91" width="6.85" height="5.14" fill="#F8CBAD"/><rect x="598.38" y="234.01" width="6.85" height="19.05" fill="#DBDBDB"/><rect x="598.38" y="209.83" width="6.85" height="24.34" fill="#FFE699"/><rect x="598.38" y="208.62" width="6.85" height="1.36" fill="#B4C7E7"/><rect x="598.38" y="173.54" width="6.85" height="35.22" fill="#C6DEB5"/><rect x="598.38" y="171.73" width="6.85" height="1.96" fill="#EBF3FA"/><rect x="598.38" y="168.25" width="6.85" height="3.63" fill="#FDEFE6"/>
<rect x="608.81" y="440.06" width="6.85" height="41.39" fill="#5B9BD5"/><rect x="608.81" y="417.84" width="6.85" height="22.37" fill="#ED7D31"/><rect x="608.81" y="390.33" width="6.85" height="27.66" fill="#A5A5A5"/><rect x="608.81" y="380.95" width="6.85" height="9.52" fill="#FFC000"/><rect x="608.81" y="343.01" width="6.85" height="38.09" fill="#4472C4"/><rect x="608.81" y="330.16" width="6.85" height="13.00" fill="#70AD47"/><rect x="608.81" y="320.48" width="6.85" height="9.82" fill="#8CB9E2"/><rect x="608.81" y="319.73" width="6.85" height="0.91" fill="#F2A46F"/><rect x="608.81" y="317.16" width="6.85" height="2.72" fill="#C0C0C0"/><rect x="608.81" y="307.79" width="6.85" height="9.52" fill="#FFD34C"/><rect x="608.81" y="292.97" width="6.85" height="14.96" fill="#7C9CD6"/><rect x="608.81" y="291.91" width="6.85" height="1.21" fill="#9BC67E"/><rect x="608.81" y="277.55" width="6.85" height="14.51" fill="#BDD7EE"/><rect x="608.81" y="272.56" width="6.85" height="5.14" fill="#F8CBAD"/><rect x="608.81" y="253.67" width="6.85" height="19.05" fill="#DBDBDB"/><rect x="608.81" y="230.99" width="6.85" height="22.83" fill="#FFE699"/><rect x="608.81" y="230.54" width="6.85" height="0.60" fill="#B4C7E7"/><rect x="608.81" y="199.55" width="6.85" height="31.14" fill="#C6DEB5"/><rect x="608.81" y="197.73" width="6.85" height="1.96" fill="#EBF3FA"/><rect x="608.81" y="195.01" width="6.85" height="2.87" fill="#FDEFE6"/>
<rect x="619.24" y="441.87" width="6.85" height="39.58" fill="#5B9BD5"/><rect x="619.24" y="418.59" width="6.85" height="23.43" fill="#ED7D31"/><rect x="619.24" y="389.57" width="6.85" height="29.17" fill="#A5A5A5"/><rect x="619.24" y="380.95" width="6.85" height="8.77" fill="#FFC000"/><rect x="619.24" y="343.92" width="6.85" height="37.19" fill="#4472C4"/><rect x="619.24" y="331.07" width="6.85" height="13.00" fill="#70AD47"/><rect x="619.24" y="321.69" width="6.85" height="9.52" fill="#8CB9E2"/><rect x="619.24" y="320.18" width="6.85" height="1.66" fill="#F2A46F"/><rect x="619.24" y="318.22" width="6.85" height="2.12" fill="#C0C0C0"/><rect x="619.24" y="308.84" width="6.85" height="9.52" fill="#FFD34C"/><rect x="619.24" y="294.03" width="6.85" height="14.96" fill="#7C9CD6"/><rect x="619.24" y="292.97" width="6.85" height="1.21" fill="#9BC67E"/><rect x="619.24" y="278.31" width="6.85" height="14.81" fill="#BDD7EE"/><rect x="619.24" y="274.38" width="6.85" height="4.08" fill="#F8CBAD"/><rect x="619.24" y="255.48" width="6.85" height="19.05" fill="#DBDBDB"/><rect x="619.24" y="232.05" width="6.85" height="23.58" fill="#FFE699"/><rect x="619.24" y="231.59" width="6.85" height="0.60" fill="#B4C7E7"/><rect x="619.24" y="200.45" width="6.85" height="31.29" fill="#C6DEB5"/><rect x="619.24" y="198.49" width="6.85" height="2.12" fill="#EBF3FA"/><rect x="619.24" y="195.16" width="6.85" height="3.48" fill="#FDEFE6"/>
<rect x="629.67" y="436.73" width="6.85" height="44.72" fill="#5B9BD5"/><rect x="629.67" y="409.07" width="6.85" height="27.81" fill="#ED7D31"/><rect x="629.67" y="378.23" width="6.85" height="30.99" fill="#A5A5A5"/><rect x="629.67" y="368.86" width="6.85" height="9.52" fill="#FFC000"/><rect x="629.67" y="328.65" width="6.85" height="40.36" fill="#4472C4"/><rect x="629.67" y="314.89" width="6.85" height="13.91" fill="#70AD47"/><rect x="629.67" y="302.80" width="6.85" height="12.24" fill="#8CB9E2"/><rect x="629.67" y="300.98" width="6.85" height="1.96" fill="#F2A46F"/><rect x="629.67" y="299.02" width="6.85" height="2.12" fill="#C0C0C0"/><rect x="629.67" y="286.47" width="6.85" height="12.70" fill="#FFD34C"/><rect x="629.67" y="271.05" width="6.85" height="15.57" fill="#7C9CD6"/><rect x="629.67" y="269.99" width="6.85" height="1.21" fill="#9BC67E"/><rect x="629.67" y="255.18" width="6.85" height="14.96" fill="#BDD7EE"/><rect x="629.67" y="249.13" width="6.85" height="6.20" fill="#F8CBAD"/><rect x="629.67" y="229.48" width="6.85" height="19.80" fill="#DBDBDB"/><rect x="629.67" y="204.84" width="6.85" height="24.79" fill="#FFE699"/><rect x="629.67" y="203.33" width="6.85" height="1.66" fill="#B4C7E7"/><rect x="629.67" y="169.01" width="6.85" height="34.47" fill="#C6DEB5"/><rect x="629.67" y="167.04" width="6.85" height="2.12" fill="#EBF3FA"/><rect x="629.67" y="164.02" width="6.85" height="3.17" fill="#FDEFE6"/>
<rect x="640.10" y="437.49" width="6.85" height="43.96" fill="#5B9BD5"/><rect x="640.10" y="410.13" width="6.85" height="27.51" fill="#ED7D31"/><rect x="640.10" y="380.05" width="6.85" height="30.23" fill="#A5A5A5"/><rect x="640.10" y="371.43" width="6.85" height="8.77" fill="#FFC000"/><rect x="640.10" y="332.88" width="6.85" height="38.70" fill="#4472C4"/><rect x="640.10" y="318.97" width="6.85" height="14.06" fill="#70AD47"/><rect x="640.10" y="307.79" width="6.85" height="11.34" fill="#8CB9E2"/><rect x="640.10" y="306.58" width="6.85" height="1.36" fill="#F2A46F"/><rect x="640.10" y="304.31" width="6.85" height="2.42" fill="#C0C0C0"/><rect x="640.10" y="293.27" width="6.85" height="11.19" fill="#FFD34C"/><rect x="640.10" y="277.85" width="6.85" height="15.57" fill="#7C9CD6"/><rect x="640.10" y="276.04" width="6.85" height="1.96" fill="#9BC67E"/><rect x="640.10" y="262.28" width="6.85" height="13.91" fill="#BDD7EE"/><rect x="640.10" y="256.99" width="6.85" height="5.44" fill="#F8CBAD"/><rect x="640.10" y="237.34" width="6.85" height="19.80" fill="#DBDBDB"/><rect x="640.10" y="213.15" width="6.85" height="24.34" fill="#FFE699"/><rect x="640.10" y="211.79" width="6.85" height="1.51" fill="#B4C7E7"/><rect x="640.10" y="177.78" width="6.85" height="34.16" fill="#C6DEB5"/><rect x="640.10" y="175.81" width="6.85" height="2.12" fill="#EBF3FA"/><rect x="640.10" y="173.24" width="6.85" height="2.72" fill="#FDEFE6"/>
<rect x="650.52" y="433.26" width="6.85" height="48.19" fill="#5B9BD5"/><rect x="650.52" y="401.51" width="6.85" height="31.90" fill="#ED7D31"/><rect x="650.52" y="369.92" width="6.85" height="31.74" fill="#A5A5A5"/><rect x="650.52" y="360.09" width="6.85" height="9.98" fill="#FFC000"/><rect x="650.52" y="318.97" width="6.85" height="41.27" fill="#4472C4"/><rect x="650.52" y="305.37" width="6.85" height="13.76" fill="#70AD47"/><rect x="650.52" y="292.52" width="6.85" height="13.00" fill="#8CB9E2"/><rect x="650.52" y="291.16" width="6.85" height="1.51" fill="#F2A46F"/><rect x="650.52" y="288.89" width="6.85" height="2.42" fill="#C0C0C0"/><rect x="650.52" y="277.85" width="6.85" height="11.19" fill="#FFD34C"/><rect x="650.52" y="260.47" width="6.85" height="17.53" fill="#7C9CD6"/><rect x="650.52" y="259.71" width="6.85" height="0.91" fill="#9BC67E"/><rect x="650.52" y="245.05" width="6.85" height="14.81" fill="#BDD7EE"/><rect x="650.52" y="239.76" width="6.85" height="5.44" fill="#F8CBAD"/><rect x="650.52" y="218.44" width="6.85" height="21.47" fill="#DBDBDB"/><rect x="650.52" y="191.99" width="6.85" height="26.61" fill="#FFE699"/><rect x="650.52" y="190.93" width="6.85" height="1.21" fill="#B4C7E7"/><rect x="650.52" y="153.14" width="6.85" height="37.94" fill="#C6DEB5"/><rect x="650.52" y="151.63" width="6.85" height="1.66" fill="#EBF3FA"/><rect x="650.52" y="148.30" width="6.85" height="3.48" fill="#FDEFE6"/>
<rect x="660.95" y="433.26" width="6.85" height="48.19" fill="#5B9BD5"/><rect x="660.95" y="398.94" width="6.85" height="34.47" fill="#ED7D31"/><rect x="660.95" y="366.44" width="6.85" height="32.65" fill="#A5A5A5"/><rect x="660.95" y="356.01" width="6.85" height="10.58" fill="#FFC000"/><rect x="660.95" y="314.89" width="6.85" height="41.27" fill="#4472C4"/><rect x="660.95" y="300.08" width="6.85" height="14.96" fill="#70AD47"/><rect x="660.95" y="287.23" width="6.85" height="13.00" fill="#8CB9E2"/><rect x="660.95" y="286.62" width="6.85" height="0.75" fill="#F2A46F"/><rect x="660.95" y="284.66" width="6.85" height="2.12" fill="#C0C0C0"/><rect x="660.95" y="272.56" width="6.85" height="12.24" fill="#FFD34C"/><rect x="660.95" y="253.67" width="6.85" height="19.05" fill="#7C9CD6"/><rect x="660.95" y="252.91" width="6.85" height="0.91" fill="#9BC67E"/><rect x="660.95" y="238.10" width="6.85" height="14.96" fill="#BDD7EE"/><rect x="660.95" y="230.99" width="6.85" height="7.26" fill="#F8CBAD"/><rect x="660.95" y="210.58" width="6.85" height="20.56" fill="#DBDBDB"/><rect x="660.95" y="180.35" width="6.85" height="30.38" fill="#FFE699"/><rect x="660.95" y="179.29" width="6.85" height="1.21" fill="#B4C7E7"/><rect x="660.95" y="141.95" width="6.85" height="37.49" fill="#C6DEB5"/><rect x="660.95" y="140.29" width="6.85" height="1.81" fill="#EBF3FA"/><rect x="660.95" y="137.72" width="6.85" height="2.72" fill="#FDEFE6"/>
<rect x="671.38" y="434.32" width="6.85" height="47.13" fill="#5B9BD5"/><rect x="671.38" y="400.60" width="6.85" height="33.86" fill="#ED7D31"/><rect x="671.38" y="366.44" width="6.85" height="34.31" fill="#A5A5A5"/><rect x="671.38" y="356.01" width="6.85" height="10.58" fill="#FFC000"/><rect x="671.38" y="317.46" width="6.85" height="38.70" fill="#4472C4"/><rect x="671.38" y="303.55" width="6.85" height="14.06" fill="#70AD47"/><rect x="671.38" y="292.52" width="6.85" height="11.19" fill="#8CB9E2"/><rect x="671.38" y="291.01" width="6.85" height="1.66" fill="#F2A46F"/><rect x="671.38" y="288.13" width="6.85" height="3.02" fill="#C0C0C0"/><rect x="671.38" y="275.13" width="6.85" height="13.15" fill="#FFD34C"/><rect x="671.38" y="258.65" width="6.85" height="16.63" fill="#7C9CD6"/><rect x="671.38" y="257.90" width="6.85" height="0.91" fill="#9BC67E"/><rect x="671.38" y="242.33" width="6.85" height="15.72" fill="#BDD7EE"/><rect x="671.38" y="236.28" width="6.85" height="6.20" fill="#F8CBAD"/><rect x="671.38" y="215.87" width="6.85" height="20.56" fill="#DBDBDB"/><rect x="671.38" y="185.64" width="6.85" height="30.38" fill="#FFE699"/><rect x="671.38" y="183.82" width="6.85" height="1.96" fill="#B4C7E7"/><rect x="671.38" y="146.03" width="6.85" height="37.94" fill="#C6DEB5"/><rect x="671.38" y="144.52" width="6.85" height="1.66" fill="#EBF3FA"/><rect x="671.38" y="142.25" width="6.85" height="2.42" fill="#FDEFE6"/>
<rect x="681.81" y="429.02" width="6.85" height="52.43" fill="#5B9BD5"/><rect x="681.81" y="393.05" width="6.85" height="36.13" fill="#ED7D31"/><rect x="681.81" y="355.25" width="6.85" height="37.94" fill="#A5A5A5"/><rect x="681.81" y="342.25" width="6.85" height="13.15" fill="#FFC000"/><rect x="681.81" y="300.08" width="6.85" height="42.33" fill="#4472C4"/><rect x="681.81" y="283.90" width="6.85" height="16.33" fill="#70AD47"/><rect x="681.81" y="271.35" width="6.85" height="12.70" fill="#8CB9E2"/><rect x="681.81" y="269.84" width="6.85" height="1.66" fill="#F2A46F"/><rect x="681.81" y="266.06" width="6.85" height="3.93" fill="#C0C0C0"/><rect x="681.81" y="250.94" width="6.85" height="15.27" fill="#FFD34C"/><rect x="681.81" y="235.53" width="6.85" height="15.57" fill="#7C9CD6"/><rect x="681.81" y="234.01" width="6.85" height="1.66" fill="#9BC67E"/><rect x="681.81" y="214.06" width="6.85" height="20.10" fill="#BDD7EE"/><rect x="681.81" y="207.11" width="6.85" height="7.10" fill="#F8CBAD"/><rect x="681.81" y="185.94" width="6.85" height="21.31" fill="#DBDBDB"/><rect x="681.81" y="150.57" width="6.85" height="35.52" fill="#FFE699"/><rect x="681.81" y="149.06" width="6.85" height="1.66" fill="#B4C7E7"/><rect x="681.81" y="106.73" width="6.85" height="42.48" fill="#C6DEB5"/><rect x="681.81" y="105.22" width="6.85" height="1.66" fill="#EBF3FA"/><rect x="681.81" y="102.49" width="6.85" height="2.87" fill="#FDEFE6"/>
</g>
<line x1="63.3" x2="692.5" y1="480.8" y2="480.8" stroke="#858585" stroke-opacity="0.55" stroke-width="1.5"/>
<g font-size="10.5" fill="#111" text-anchor="end">
<text transform="translate(70.12,486.9) rotate(-90) scale(0.97,1)" x="0" y="3.76">Jan-2019</text>
<text transform="translate(81.34,486.9) rotate(-90) scale(0.97,1)" x="0" y="3.76">Feb-2019</text>
<text transform="translate(91.66,486.9) rotate(-90) scale(0.97,1)" x="0" y="3.76">Mar-2019</text>
<text transform="translate(101.72,486.9) rotate(-90) scale(0.97,1)" x="0" y="3.76">Apr-2019</text>
<text transform="translate(111.79,486.9) rotate(-90) scale(0.97,1)" x="0" y="3.76">May-2019</text>
<text transform="translate(122.21,486.9) rotate(-90) scale(0.97,1)" x="0" y="3.76">Jun-2019</text>
<text transform="translate(132.62,486.9) rotate(-90) scale(0.97,1)" x="0" y="3.76">Jul-2019</text>
<text transform="translate(143.04,486.9) rotate(-90) scale(0.97,1)" x="0" y="3.76">Aug-2019</text>
<text transform="translate(153.45,486.9) rotate(-90) scale(0.97,1)" x="0" y="3.76">Sep-2019</text>
<text transform="translate(163.87,486.9) rotate(-90) scale(0.97,1)" x="0" y="3.76">Oct-2019</text>
<text transform="translate(174.29,486.9) rotate(-90) scale(0.97,1)" x="0" y="3.76">Nov-2019</text>
<text transform="translate(184.70,486.9) rotate(-90) scale(0.97,1)" x="0" y="3.76">Dec-2019</text>
<text transform="translate(195.12,486.9) rotate(-90) scale(0.97,1)" x="0" y="3.76">Jan-2020</text>
<text transform="translate(205.53,486.9) rotate(-90) scale(0.97,1)" x="0" y="3.76">Feb-2020</text>
<text transform="translate(215.95,486.9) rotate(-90) scale(0.97,1)" x="0" y="3.76">Mar-2020</text>
<text transform="translate(226.37,486.9) rotate(-90) scale(0.97,1)" x="0" y="3.76">Apr-2020</text>
<text transform="translate(236.78,486.9) rotate(-90) scale(0.97,1)" x="0" y="3.76">May-2020</text>
<text transform="translate(247.20,486.9) rotate(-90) scale(0.97,1)" x="0" y="3.76">Jun-2020</text>
<text transform="translate(257.61,486.9) rotate(-90) scale(0.97,1)" x="0" y="3.76">Jul-2020</text>
<text transform="translate(268.03,486.9) rotate(-90) scale(0.97,1)" x="0" y="3.76">Aug-2020</text>
<text transform="translate(278.45,486.9) rotate(-90) scale(0.97,1)" x="0" y="3.76">Sep-2020</text>
<text transform="translate(288.86,486.9) rotate(-90) scale(0.97,1)" x="0" y="3.76">Oct-2020</text>
<text transform="translate(299.28,486.9) rotate(-90) scale(0.97,1)" x="0" y="3.76">Nov-2020</text>
<text transform="translate(309.69,486.9) rotate(-90) scale(0.97,1)" x="0" y="3.76">Dec-2020</text>
<text transform="translate(320.11,486.9) rotate(-90) scale(0.97,1)" x="0" y="3.76">Jan-2021</text>
<text transform="translate(330.53,486.9) rotate(-90) scale(0.97,1)" x="0" y="3.76">Feb-2021</text>
<text transform="translate(340.94,486.9) rotate(-90) scale(0.97,1)" x="0" y="3.76">Mar-2021</text>
<text transform="translate(351.36,486.9) rotate(-90) scale(0.97,1)" x="0" y="3.76">Apr-2021</text>
<text transform="translate(361.77,486.9) rotate(-90) scale(0.97,1)" x="0" y="3.76">May-2021</text>
<text transform="translate(372.19,486.9) rotate(-90) scale(0.97,1)" x="0" y="3.76">Jun-2021</text>
<text transform="translate(382.61,486.9) rotate(-90) scale(0.97,1)" x="0" y="3.76">Jul-2021</text>
<text transform="translate(393.02,486.9) rotate(-90) scale(0.97,1)" x="0" y="3.76">Aug-2021</text>
<text transform="translate(403.44,486.9) rotate(-90) scale(0.97,1)" x="0" y="3.76">Sep-2021</text>
<text transform="translate(413.85,486.9) rotate(-90) scale(0.97,1)" x="0" y="3.76">Oct-2021</text>
<text transform="translate(424.27,486.9) rotate(-90) scale(0.97,1)" x="0" y="3.76">Nov-2021</text>
<text transform="translate(434.69,486.9) rotate(-90) scale(0.97,1)" x="0" y="3.76">Dec-2021</text>
<text transform="translate(445.10,486.9) rotate(-90) scale(0.97,1)" x="0" y="3.76">Jan-2022</text>
<text transform="translate(455.52,486.9) rotate(-90) scale(0.97,1)" x="0" y="3.76">Feb-2022</text>
<text transform="translate(465.93,486.9) rotate(-90) scale(0.97,1)" x="0" y="3.76">Mar-2022</text>
<text transform="translate(476.35,486.9) rotate(-90) scale(0.97,1)" x="0" y="3.76">Apr-2022</text>
<text transform="translate(486.77,486.9) rotate(-90) scale(0.97,1)" x="0" y="3.76">May-2022</text>
<text transform="translate(497.18,486.9) rotate(-90) scale(0.97,1)" x="0" y="3.76">Jun-2022</text>
<text transform="translate(507.60,486.9) rotate(-90) scale(0.97,1)" x="0" y="3.76">Jul-2022</text>
<text transform="translate(518.01,486.9) rotate(-90) scale(0.97,1)" x="0" y="3.76">Aug-2022</text>
<text transform="translate(528.43,486.9) rotate(-90) scale(0.97,1)" x="0" y="3.76">Sep-2022</text>
<text transform="translate(538.85,486.9) rotate(-90) scale(0.97,1)" x="0" y="3.76">Oct-2022</text>
<text transform="translate(549.26,486.9) rotate(-90) scale(0.97,1)" x="0" y="3.76">Nov-2022</text>
<text transform="translate(559.68,486.9) rotate(-90) scale(0.97,1)" x="0" y="3.76">Dec-2022</text>
<text transform="translate(570.09,486.9) rotate(-90) scale(0.97,1)" x="0" y="3.76">Jan-2023</text>
<text transform="translate(580.51,486.9) rotate(-90) scale(0.97,1)" x="0" y="3.76">Feb-2023</text>
<text transform="translate(590.93,486.9) rotate(-90) scale(0.97,1)" x="0" y="3.76">Mar-2023</text>
<text transform="translate(601.34,486.9) rotate(-90) scale(0.97,1)" x="0" y="3.76">Apr-2023</text>
<text transform="translate(611.76,486.9) rotate(-90) scale(0.97,1)" x="0" y="3.76">May-2023</text>
<text transform="translate(622.17,486.9) rotate(-90) scale(0.97,1)" x="0" y="3.76">Jun-2023</text>
<text transform="translate(632.59,486.9) rotate(-90) scale(0.97,1)" x="0" y="3.76">Jul-2023</text>
<text transform="translate(643.00,486.9) rotate(-90) scale(0.97,1)" x="0" y="3.76">Aug-2023</text>
<text transform="translate(653.42,486.9) rotate(-90) scale(0.97,1)" x="0" y="3.76">Sep-2023</text>
<text transform="translate(663.84,486.9) rotate(-90) scale(0.97,1)" x="0" y="3.76">Oct-2023</text>
<text transform="translate(674.25,486.9) rotate(-90) scale(0.97,1)" x="0" y="3.76">Nov-2023</text>
<text transform="translate(684.67,486.9) rotate(-90) scale(0.97,1)" x="0" y="3.76">Dec-2023</text>
</g>
<g font-size="13.6" fill="#1f1f1f">
<rect x="721.5" y="88.7" width="10.2" height="10.2" rx="0.8" fill="#FDEFE6"/><text x="739.2" y="97.7" textLength="59.6" lengthAdjust="spacingAndGlyphs">Whanganui</text>
<rect x="721.5" y="109.3" width="10.2" height="10.2" rx="0.8" fill="#EBF3FA"/><text x="739.2" y="118.3" textLength="61.1" lengthAdjust="spacingAndGlyphs">West Coast</text>
<rect x="721.5" y="130.0" width="10.2" height="10.2" rx="0.8" fill="#C6DEB5"/><text x="739.2" y="139.0" textLength="57.3" lengthAdjust="spacingAndGlyphs">Waitemata</text>
<rect x="721.5" y="150.6" width="10.2" height="10.2" rx="0.8" fill="#B4C7E7"/><text x="739.2" y="159.6" textLength="53.6" lengthAdjust="spacingAndGlyphs">Wairarapa</text>
<rect x="721.5" y="171.3" width="10.2" height="10.2" rx="0.8" fill="#FFE699"/><text x="739.2" y="180.3" textLength="43.0" lengthAdjust="spacingAndGlyphs">Waikato</text>
<rect x="721.5" y="191.9" width="10.2" height="10.2" rx="0.8" fill="#DBDBDB"/><text x="739.2" y="200.9" textLength="45.3" lengthAdjust="spacingAndGlyphs">Taranaki</text>
<rect x="721.5" y="212.5" width="10.2" height="10.2" rx="0.8" fill="#F8CBAD"/><text x="739.2" y="221.5" textLength="51.7" lengthAdjust="spacingAndGlyphs">Tairawhiti</text>
<rect x="721.5" y="233.2" width="10.2" height="10.2" rx="0.8" fill="#BDD7EE"/><text x="739.2" y="242.2" textLength="47.9" lengthAdjust="spacingAndGlyphs">Southern</text>
<rect x="721.5" y="253.8" width="10.2" height="10.2" rx="0.8" fill="#9BC67E"/><text x="739.2" y="262.8" textLength="92.4" lengthAdjust="spacingAndGlyphs">South Canterbury</text>
<rect x="721.5" y="274.5" width="10.2" height="10.2" rx="0.8" fill="#7C9CD6"/><text x="739.2" y="283.5" textLength="52.8" lengthAdjust="spacingAndGlyphs">Northland</text>
<rect x="721.5" y="295.1" width="10.2" height="10.2" rx="0.8" fill="#FFD34C"/><text x="739.2" y="304.1" textLength="108.3" lengthAdjust="spacingAndGlyphs">Nelson Marlborough</text>
<rect x="721.5" y="315.7" width="10.2" height="10.2" rx="0.8" fill="#C0C0C0"/><text x="739.2" y="324.7" textLength="58.1" lengthAdjust="spacingAndGlyphs">MidCentral</text>
<rect x="721.5" y="336.4" width="10.2" height="10.2" rx="0.8" fill="#F2A46F"/><text x="739.2" y="345.4" textLength="31.3" lengthAdjust="spacingAndGlyphs">Lakes</text>
<rect x="721.5" y="357.0" width="10.2" height="10.2" rx="0.8" fill="#8CB9E2"/><text x="739.2" y="366.0" textLength="57.7" lengthAdjust="spacingAndGlyphs">Hutt Valley</text>
<rect x="721.5" y="377.7" width="10.2" height="10.2" rx="0.8" fill="#70AD47"/><text x="739.2" y="386.7" textLength="66.8" lengthAdjust="spacingAndGlyphs">Hawke's Bay</text>
<rect x="721.5" y="398.3" width="10.2" height="10.2" rx="0.8" fill="#4472C4"/><text x="739.2" y="407.3" textLength="100.0" lengthAdjust="spacingAndGlyphs">Counties Manukau</text>
<rect x="721.5" y="418.9" width="10.2" height="10.2" rx="0.8" fill="#FFC000"/><text x="739.2" y="427.9" textLength="94.3" lengthAdjust="spacingAndGlyphs">Capital and Coast</text>
<rect x="721.5" y="439.6" width="10.2" height="10.2" rx="0.8" fill="#A5A5A5"/><text x="739.2" y="448.6" textLength="58.1" lengthAdjust="spacingAndGlyphs">Canterbury</text>
<rect x="721.5" y="460.2" width="10.2" height="10.2" rx="0.8" fill="#ED7D31"/><text x="739.2" y="469.2" textLength="69.4" lengthAdjust="spacingAndGlyphs">Bay of Plenty</text>
<rect x="721.5" y="480.9" width="10.2" height="10.2" rx="0.8" fill="#5B9BD5"/><text x="739.2" y="489.9" textLength="49.4" lengthAdjust="spacingAndGlyphs">Auckland</text>
</g>
</svg></body></html>
